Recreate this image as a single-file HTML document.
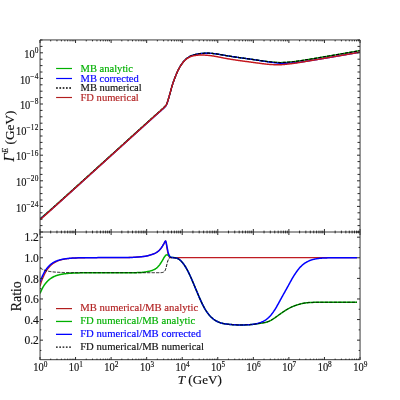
<!DOCTYPE html>
<html><head><meta charset="utf-8"><title>plot</title>
<style>
html,body{margin:0;padding:0;background:#fff;}
body{width:400px;height:400px;overflow:hidden;position:relative;font-family:"Liberation Serif",serif;}
svg{position:absolute;left:0;top:0;will-change:transform;}
text{font-family:"Liberation Serif",serif;fill:#111;stroke:#111;stroke-width:0.15px;}
.cg{fill:#00b000;stroke:#00b000;}.cb{fill:#0000ff;stroke:#0000ff;}.cr{fill:#b22222;stroke:#b22222;}
.tl{font-size:11px;}
.sup{font-size:7.7px;letter-spacing:0.2px;}
.lg{font-size:10.56px;}
</style></head><body>
<svg width="400" height="400" viewBox="0 0 400 400">
<rect x="0" y="0" width="400" height="400" fill="#fff"/>
<defs><clipPath id="ct"><rect x="40" y="40" width="320" height="192"/></clipPath>
<clipPath id="cb"><rect x="40" y="232" width="320" height="128"/></clipPath></defs>
<g clip-path="url(#ct)" fill="none" stroke-linejoin="round">
<path d="M40.00,218.60 L40.45,218.25 L40.89,217.90 L41.34,217.55 L41.78,217.19 L42.23,216.83 L42.67,216.46 L43.12,216.10 L43.56,215.73 L44.01,215.36 L44.45,214.98 L44.90,214.61 L45.34,214.23 L45.79,213.86 L46.23,213.48 L46.68,213.10 L47.12,212.71 L47.57,212.33 L48.01,211.94 L48.46,211.56 L48.90,211.17 L49.35,210.79 L49.79,210.40 L50.24,210.01 L50.68,209.62 L51.13,209.23 L51.57,208.84 L52.02,208.44 L52.46,208.05 L52.91,207.66 L53.35,207.26 L53.80,206.87 L54.24,206.48 L54.69,206.08 L55.13,205.68 L55.58,205.29 L56.02,204.89 L56.47,204.50 L56.91,204.10 L57.36,203.70 L57.80,203.30 L58.25,202.91 L58.69,202.51 L59.14,202.11 L59.58,201.71 L60.03,201.31 L60.47,200.91 L60.92,200.51 L61.36,200.11 L61.81,199.71 L62.25,199.32 L62.70,198.92 L63.14,198.52 L63.59,198.11 L64.03,197.71 L64.48,197.31 L64.92,196.91 L65.37,196.51 L65.81,196.11 L66.26,195.71 L66.70,195.31 L67.15,194.91 L67.59,194.51 L68.04,194.11 L68.48,193.70 L68.93,193.30 L69.37,192.90 L69.82,192.50 L70.26,192.10 L70.71,191.70 L71.15,191.30 L71.60,190.89 L72.04,190.49 L72.49,190.09 L72.93,189.69 L73.38,189.29 L73.82,188.88 L74.27,188.48 L74.71,188.08 L75.16,187.68 L75.61,187.27 L76.05,186.87 L76.50,186.47 L76.94,186.07 L77.39,185.67 L77.83,185.26 L78.28,184.86 L78.72,184.46 L79.17,184.06 L79.61,183.65 L80.06,183.25 L80.50,182.85 L80.95,182.45 L81.39,182.04 L81.84,181.64 L82.28,181.24 L82.73,180.84 L83.17,180.43 L83.62,180.03 L84.06,179.63 L84.51,179.23 L84.95,178.82 L85.40,178.42 L85.84,178.02 L86.29,177.62 L86.73,177.21 L87.18,176.81 L87.62,176.41 L88.07,176.00 L88.51,175.60 L88.96,175.20 L89.40,174.80 L89.85,174.39 L90.29,173.99 L90.74,173.59 L91.18,173.19 L91.63,172.78 L92.07,172.38 L92.52,171.98 L92.96,171.57 L93.41,171.17 L93.85,170.77 L94.30,170.37 L94.74,169.96 L95.19,169.56 L95.63,169.16 L96.08,168.75 L96.52,168.35 L96.97,167.95 L97.41,167.55 L97.86,167.14 L98.30,166.74 L98.75,166.34 L99.19,165.93 L99.64,165.53 L100.08,165.13 L100.53,164.73 L100.97,164.32 L101.42,163.92 L101.86,163.52 L102.31,163.11 L102.75,162.71 L103.20,162.31 L103.64,161.91 L104.09,161.50 L104.53,161.10 L104.98,160.70 L105.42,160.29 L105.87,159.89 L106.31,159.49 L106.76,159.09 L107.20,158.68 L107.65,158.28 L108.09,157.88 L108.54,157.47 L108.98,157.07 L109.43,156.67 L109.87,156.27 L110.32,155.86 L110.76,155.46 L111.21,155.06 L111.66,154.65 L112.10,154.25 L112.55,153.85 L112.99,153.44 L113.44,153.04 L113.88,152.64 L114.33,152.24 L114.77,151.83 L115.22,151.43 L115.66,151.03 L116.11,150.62 L116.55,150.22 L117.00,149.82 L117.44,149.42 L117.89,149.01 L118.33,148.61 L118.78,148.21 L119.22,147.80 L119.67,147.40 L120.11,147.00 L120.56,146.60 L121.00,146.19 L121.45,145.79 L121.89,145.39 L122.34,144.98 L122.78,144.58 L123.23,144.18 L123.67,143.77 L124.12,143.37 L124.56,142.97 L125.01,142.57 L125.45,142.16 L125.90,141.76 L126.34,141.36 L126.79,140.95 L127.23,140.55 L127.68,140.15 L128.12,139.75 L128.57,139.34 L129.01,138.94 L129.46,138.54 L129.90,138.14 L130.35,137.73 L130.79,137.33 L131.24,136.93 L131.68,136.53 L132.13,136.12 L132.57,135.72 L133.02,135.32 L133.46,134.92 L133.91,134.51 L134.35,134.11 L134.80,133.71 L135.24,133.31 L135.69,132.91 L136.13,132.50 L136.58,132.10 L137.02,131.70 L137.47,131.30 L137.91,130.89 L138.36,130.49 L138.80,130.09 L139.25,129.69 L139.69,129.29 L140.14,128.88 L140.58,128.48 L141.03,128.08 L141.47,127.68 L141.92,127.28 L142.36,126.87 L142.81,126.47 L143.25,126.07 L143.70,125.67 L144.14,125.27 L144.59,124.87 L145.03,124.46 L145.48,124.06 L145.92,123.66 L146.37,123.26 L146.82,122.86 L147.26,122.46 L147.71,122.06 L148.15,121.66 L148.60,121.26 L149.04,120.86 L149.49,120.46 L149.93,120.06 L150.38,119.66 L150.82,119.26 L151.27,118.86 L151.71,118.46 L152.16,118.07 L152.60,117.67 L153.05,117.27 L153.49,116.87 L153.94,116.47 L154.38,116.07 L154.83,115.67 L155.27,115.28 L155.72,114.88 L156.16,114.49 L156.61,114.10 L157.05,113.71 L157.50,113.32 L157.94,112.94 L158.39,112.55 L158.83,112.17 L159.28,111.78 L159.72,111.39 L160.17,111.01 L160.61,110.62 L161.06,110.23 L161.50,109.84 L161.95,109.44 L162.39,109.05 L162.84,108.64 L163.28,108.24 L163.73,107.83 L164.17,107.43 L164.62,107.01 L165.06,106.56 L165.51,106.07 L165.95,105.51 L166.40,104.77 L166.84,103.76 L167.29,102.57 L167.73,101.28 L168.18,99.83 L168.62,98.27 L169.07,96.68 L169.51,95.13 L169.96,93.56 L170.40,91.94 L170.85,90.31 L171.29,88.69 L171.74,87.12 L172.18,85.61 L172.63,84.21 L173.07,82.86 L173.52,81.56 L173.96,80.30 L174.41,79.08 L174.85,77.90 L175.30,76.76 L175.74,75.65 L176.19,74.57 L176.63,73.52 L177.08,72.49 L177.52,71.51 L177.97,70.56 L178.41,69.65 L178.86,68.80 L179.30,67.98 L179.75,67.19 L180.19,66.43 L180.64,65.70 L181.08,65.00 L181.53,64.34 L181.97,63.70 L182.42,63.08 L182.87,62.49 L183.31,61.91 L183.76,61.36 L184.20,60.84 L184.65,60.36 L185.09,59.92 L185.54,59.50 L185.98,59.11 L186.43,58.75 L186.87,58.40 L187.32,58.07 L187.76,57.76 L188.21,57.47 L188.65,57.19 L189.10,56.91 L189.54,56.65 L189.99,56.41 L190.43,56.18 L190.88,55.97 L191.32,55.77 L191.77,55.60 L192.21,55.43 L192.66,55.27 L193.10,55.13 L193.55,54.99 L193.99,54.87 L194.44,54.75 L194.88,54.63 L195.33,54.52 L195.77,54.42 L196.22,54.32 L196.66,54.22 L197.11,54.13 L197.55,54.04 L198.00,53.95 L198.44,53.87 L198.89,53.80 L199.33,53.73 L199.78,53.66 L200.22,53.60 L200.67,53.54 L201.11,53.49 L201.56,53.44 L202.00,53.40 L202.45,53.36 L202.89,53.33 L203.34,53.30 L203.78,53.28 L204.23,53.25 L204.67,53.24 L205.12,53.22 L205.56,53.21 L206.01,53.21 L206.45,53.20 L206.90,53.20 L207.34,53.21 L207.79,53.21 L208.23,53.22 L208.68,53.23 L209.12,53.25 L209.57,53.26 L210.01,53.28 L210.46,53.31 L210.90,53.33 L211.35,53.36 L211.79,53.40 L212.24,53.43 L212.68,53.47 L213.13,53.52 L213.57,53.56 L214.02,53.61 L214.46,53.67 L214.91,53.72 L215.35,53.78 L215.80,53.84 L216.24,53.90 L216.69,53.97 L217.13,54.04 L217.58,54.11 L218.03,54.18 L218.47,54.25 L218.92,54.32 L219.36,54.40 L219.81,54.48 L220.25,54.55 L220.70,54.63 L221.14,54.71 L221.59,54.79 L222.03,54.87 L222.48,54.95 L222.92,55.03 L223.37,55.11 L223.81,55.19 L224.26,55.27 L224.70,55.35 L225.15,55.43 L225.59,55.51 L226.04,55.58 L226.48,55.66 L226.93,55.73 L227.37,55.81 L227.82,55.88 L228.26,55.96 L228.71,56.03 L229.15,56.10 L229.60,56.17 L230.04,56.24 L230.49,56.31 L230.93,56.38 L231.38,56.45 L231.82,56.52 L232.27,56.58 L232.71,56.65 L233.16,56.72 L233.60,56.78 L234.05,56.85 L234.49,56.92 L234.94,56.98 L235.38,57.05 L235.83,57.11 L236.27,57.17 L236.72,57.24 L237.16,57.30 L237.61,57.37 L238.05,57.43 L238.50,57.49 L238.94,57.55 L239.39,57.62 L239.83,57.68 L240.28,57.74 L240.72,57.80 L241.17,57.87 L241.61,57.93 L242.06,57.99 L242.50,58.05 L242.95,58.11 L243.39,58.18 L243.84,58.24 L244.28,58.30 L244.73,58.36 L245.17,58.42 L245.62,58.48 L246.06,58.55 L246.51,58.61 L246.95,58.67 L247.40,58.73 L247.84,58.79 L248.29,58.85 L248.73,58.92 L249.18,58.98 L249.62,59.04 L250.07,59.10 L250.51,59.17 L250.96,59.23 L251.40,59.29 L251.85,59.35 L252.29,59.42 L252.74,59.48 L253.18,59.54 L253.63,59.61 L254.08,59.67 L254.52,59.73 L254.97,59.80 L255.41,59.86 L255.86,59.93 L256.30,59.99 L256.75,60.06 L257.19,60.12 L257.64,60.19 L258.08,60.25 L258.53,60.31 L258.97,60.38 L259.42,60.44 L259.86,60.51 L260.31,60.57 L260.75,60.64 L261.20,60.70 L261.64,60.76 L262.09,60.83 L262.53,60.89 L262.98,60.95 L263.42,61.01 L263.87,61.07 L264.31,61.13 L264.76,61.19 L265.20,61.25 L265.65,61.31 L266.09,61.37 L266.54,61.42 L266.98,61.48 L267.43,61.53 L267.87,61.59 L268.32,61.64 L268.76,61.69 L269.21,61.74 L269.65,61.79 L270.10,61.84 L270.54,61.89 L270.99,61.94 L271.43,61.98 L271.88,62.03 L272.32,62.07 L272.77,62.11 L273.21,62.15 L273.66,62.19 L274.10,62.23 L274.55,62.27 L274.99,62.30 L275.44,62.34 L275.88,62.37 L276.33,62.40 L276.77,62.43 L277.22,62.45 L277.66,62.48 L278.11,62.50 L278.55,62.52 L279.00,62.53 L279.44,62.54 L279.89,62.55 L280.33,62.55 L280.78,62.55 L281.22,62.55 L281.67,62.54 L282.11,62.53 L282.56,62.52 L283.00,62.50 L283.45,62.48 L283.89,62.46 L284.34,62.44 L284.78,62.42 L285.23,62.39 L285.67,62.36 L286.12,62.33 L286.56,62.30 L287.01,62.27 L287.45,62.23 L287.90,62.20 L288.34,62.16 L288.79,62.12 L289.24,62.08 L289.68,62.04 L290.13,62.00 L290.57,61.95 L291.02,61.91 L291.46,61.86 L291.91,61.81 L292.35,61.76 L292.80,61.71 L293.24,61.66 L293.69,61.61 L294.13,61.55 L294.58,61.50 L295.02,61.44 L295.47,61.39 L295.91,61.33 L296.36,61.27 L296.80,61.21 L297.25,61.15 L297.69,61.09 L298.14,61.03 L298.58,60.96 L299.03,60.90 L299.47,60.83 L299.92,60.77 L300.36,60.70 L300.81,60.64 L301.25,60.57 L301.70,60.50 L302.14,60.43 L302.59,60.37 L303.03,60.30 L303.48,60.23 L303.92,60.16 L304.37,60.09 L304.81,60.02 L305.26,59.95 L305.70,59.88 L306.15,59.81 L306.59,59.74 L307.04,59.66 L307.48,59.59 L307.93,59.52 L308.37,59.45 L308.82,59.38 L309.26,59.30 L309.71,59.23 L310.15,59.16 L310.60,59.08 L311.04,59.01 L311.49,58.94 L311.93,58.86 L312.38,58.79 L312.82,58.71 L313.27,58.64 L313.71,58.56 L314.16,58.49 L314.60,58.41 L315.05,58.34 L315.49,58.26 L315.94,58.19 L316.38,58.11 L316.83,58.04 L317.27,57.96 L317.72,57.89 L318.16,57.81 L318.61,57.74 L319.05,57.66 L319.50,57.59 L319.94,57.51 L320.39,57.44 L320.83,57.36 L321.28,57.29 L321.72,57.21 L322.17,57.13 L322.61,57.06 L323.06,56.98 L323.50,56.91 L323.95,56.83 L324.39,56.76 L324.84,56.68 L325.29,56.61 L325.73,56.53 L326.18,56.46 L326.62,56.38 L327.07,56.30 L327.51,56.23 L327.96,56.15 L328.40,56.08 L328.85,56.00 L329.29,55.93 L329.74,55.85 L330.18,55.78 L330.63,55.70 L331.07,55.63 L331.52,55.55 L331.96,55.47 L332.41,55.40 L332.85,55.32 L333.30,55.25 L333.74,55.17 L334.19,55.10 L334.63,55.02 L335.08,54.94 L335.52,54.87 L335.97,54.79 L336.41,54.72 L336.86,54.64 L337.30,54.56 L337.75,54.49 L338.19,54.41 L338.64,54.34 L339.08,54.26 L339.53,54.18 L339.97,54.11 L340.42,54.03 L340.86,53.95 L341.31,53.88 L341.75,53.80 L342.20,53.72 L342.64,53.65 L343.09,53.57 L343.53,53.49 L343.98,53.42 L344.42,53.34 L344.87,53.26 L345.31,53.19 L345.76,53.11 L346.20,53.03 L346.65,52.96 L347.09,52.88 L347.54,52.80 L347.98,52.72 L348.43,52.65 L348.87,52.57 L349.32,52.49 L349.76,52.41 L350.21,52.34 L350.65,52.26 L351.10,52.18 L351.54,52.10 L351.99,52.02 L352.43,51.95 L352.88,51.87 L353.32,51.79 L353.77,51.71 L354.21,51.63 L354.66,51.55 L355.10,51.47 L355.55,51.40 L355.99,51.32 L356.44,51.24 L356.88,51.16 L357.33,51.08 L357.77,51.00 L358.22,50.92 L358.66,50.84 L359.11,50.76 L359.55,50.68 L360.00,50.60" stroke="#00b000" stroke-width="1.35"/>
<path d="M40.00,219.03 L40.45,218.68 L40.89,218.33 L41.34,217.97 L41.78,217.62 L42.23,217.25 L42.67,216.89 L43.12,216.53 L43.56,216.16 L44.01,215.79 L44.45,215.41 L44.90,215.04 L45.34,214.66 L45.79,214.29 L46.23,213.91 L46.68,213.53 L47.12,213.14 L47.57,212.76 L48.01,212.38 L48.46,211.99 L48.90,211.60 L49.35,211.22 L49.79,210.83 L50.24,210.44 L50.68,210.05 L51.13,209.66 L51.57,209.27 L52.02,208.88 L52.46,208.48 L52.91,208.09 L53.35,207.70 L53.80,207.30 L54.24,206.91 L54.69,206.51 L55.13,206.12 L55.58,205.72 L56.02,205.33 L56.47,204.93 L56.91,204.53 L57.36,204.14 L57.80,203.74 L58.25,203.34 L58.69,202.94 L59.14,202.54 L59.58,202.15 L60.03,201.75 L60.47,201.35 L60.92,200.95 L61.36,200.55 L61.81,200.15 L62.25,199.75 L62.70,199.35 L63.14,198.95 L63.59,198.55 L64.03,198.15 L64.48,197.75 L64.92,197.35 L65.37,196.95 L65.81,196.55 L66.26,196.15 L66.70,195.74 L67.15,195.34 L67.59,194.94 L68.04,194.54 L68.48,194.14 L68.93,193.74 L69.37,193.34 L69.82,192.94 L70.26,192.53 L70.71,192.13 L71.15,191.73 L71.60,191.33 L72.04,190.93 L72.49,190.52 L72.93,190.12 L73.38,189.72 L73.82,189.32 L74.27,188.92 L74.71,188.51 L75.16,188.11 L75.61,187.71 L76.05,187.31 L76.50,186.91 L76.94,186.50 L77.39,186.10 L77.83,185.70 L78.28,185.30 L78.72,184.89 L79.17,184.49 L79.61,184.09 L80.06,183.69 L80.50,183.28 L80.95,182.88 L81.39,182.48 L81.84,182.08 L82.28,181.67 L82.73,181.27 L83.17,180.87 L83.62,180.47 L84.06,180.06 L84.51,179.66 L84.95,179.26 L85.40,178.86 L85.84,178.45 L86.29,178.05 L86.73,177.65 L87.18,177.24 L87.62,176.84 L88.07,176.44 L88.51,176.04 L88.96,175.63 L89.40,175.23 L89.85,174.83 L90.29,174.43 L90.74,174.02 L91.18,173.62 L91.63,173.22 L92.07,172.81 L92.52,172.41 L92.96,172.01 L93.41,171.61 L93.85,171.20 L94.30,170.80 L94.74,170.40 L95.19,169.99 L95.63,169.59 L96.08,169.19 L96.52,168.79 L96.97,168.38 L97.41,167.98 L97.86,167.58 L98.30,167.18 L98.75,166.77 L99.19,166.37 L99.64,165.97 L100.08,165.56 L100.53,165.16 L100.97,164.76 L101.42,164.36 L101.86,163.95 L102.31,163.55 L102.75,163.15 L103.20,162.74 L103.64,162.34 L104.09,161.94 L104.53,161.54 L104.98,161.13 L105.42,160.73 L105.87,160.33 L106.31,159.92 L106.76,159.52 L107.20,159.12 L107.65,158.71 L108.09,158.31 L108.54,157.91 L108.98,157.51 L109.43,157.10 L109.87,156.70 L110.32,156.30 L110.76,155.89 L111.21,155.49 L111.66,155.09 L112.10,154.69 L112.55,154.28 L112.99,153.88 L113.44,153.48 L113.88,153.07 L114.33,152.67 L114.77,152.27 L115.22,151.87 L115.66,151.46 L116.11,151.06 L116.55,150.66 L117.00,150.25 L117.44,149.85 L117.89,149.45 L118.33,149.04 L118.78,148.64 L119.22,148.24 L119.67,147.84 L120.11,147.43 L120.56,147.03 L121.00,146.63 L121.45,146.22 L121.89,145.82 L122.34,145.42 L122.78,145.02 L123.23,144.61 L123.67,144.21 L124.12,143.81 L124.56,143.40 L125.01,143.00 L125.45,142.60 L125.90,142.19 L126.34,141.79 L126.79,141.39 L127.23,140.99 L127.68,140.58 L128.12,140.18 L128.57,139.78 L129.01,139.38 L129.46,138.97 L129.90,138.57 L130.35,138.17 L130.79,137.77 L131.24,137.36 L131.68,136.96 L132.13,136.56 L132.57,136.16 L133.02,135.75 L133.46,135.35 L133.91,134.95 L134.35,134.55 L134.80,134.14 L135.24,133.74 L135.69,133.34 L136.13,132.94 L136.58,132.54 L137.02,132.13 L137.47,131.73 L137.91,131.33 L138.36,130.93 L138.80,130.53 L139.25,130.12 L139.69,129.72 L140.14,129.32 L140.58,128.92 L141.03,128.52 L141.47,128.11 L141.92,127.71 L142.36,127.31 L142.81,126.91 L143.25,126.51 L143.70,126.10 L144.14,125.70 L144.59,125.30 L145.03,124.90 L145.48,124.50 L145.92,124.10 L146.37,123.70 L146.82,123.30 L147.26,122.90 L147.71,122.50 L148.15,122.10 L148.60,121.70 L149.04,121.30 L149.49,120.90 L149.93,120.50 L150.38,120.10 L150.82,119.70 L151.27,119.30 L151.71,118.90 L152.16,118.50 L152.60,118.10 L153.05,117.70 L153.49,117.30 L153.94,116.91 L154.38,116.51 L154.83,116.11 L155.27,115.71 L155.72,115.32 L156.16,114.93 L156.61,114.54 L157.05,114.15 L157.50,113.76 L157.94,113.37 L158.39,112.99 L158.83,112.60 L159.28,112.22 L159.72,111.83 L160.17,111.44 L160.61,111.05 L161.06,110.66 L161.50,110.27 L161.95,109.87 L162.39,109.47 L162.84,109.07 L163.28,108.66 L163.73,108.25 L164.17,107.83 L164.62,107.40 L165.06,106.93 L165.51,106.41 L165.95,105.81 L166.40,105.03 L166.84,103.99 L167.29,102.76 L167.73,101.43 L168.18,99.94 L168.62,98.35 L169.07,96.73 L169.51,95.16 L169.96,93.58 L170.40,91.95 L170.85,90.31 L171.29,88.69 L171.74,87.12 L172.18,85.61 L172.63,84.20 L173.07,82.86 L173.52,81.55 L173.96,80.29 L174.41,79.07 L174.85,77.89 L175.30,76.75 L175.74,75.65 L176.19,74.57 L176.63,73.51 L177.08,72.49 L177.52,71.50 L177.97,70.55 L178.41,69.65 L178.86,68.79 L179.30,67.97 L179.75,67.18 L180.19,66.42 L180.64,65.70 L181.08,65.00 L181.53,64.33 L181.97,63.69 L182.42,63.08 L182.87,62.48 L183.31,61.91 L183.76,61.36 L184.20,60.84 L184.65,60.36 L185.09,59.91 L185.54,59.50 L185.98,59.11 L186.43,58.74 L186.87,58.40 L187.32,58.07 L187.76,57.76 L188.21,57.47 L188.65,57.18 L189.10,56.91 L189.54,56.65 L189.99,56.40 L190.43,56.17 L190.88,55.96 L191.32,55.77 L191.77,55.59 L192.21,55.43 L192.66,55.27 L193.10,55.12 L193.55,54.99 L193.99,54.86 L194.44,54.74 L194.88,54.63 L195.33,54.52 L195.77,54.41 L196.22,54.31 L196.66,54.22 L197.11,54.12 L197.55,54.03 L198.00,53.95 L198.44,53.87 L198.89,53.80 L199.33,53.72 L199.78,53.66 L200.22,53.60 L200.67,53.54 L201.11,53.49 L201.56,53.44 L202.00,53.40 L202.45,53.36 L202.89,53.33 L203.34,53.30 L203.78,53.27 L204.23,53.25 L204.67,53.23 L205.12,53.22 L205.56,53.21 L206.01,53.20 L206.45,53.20 L206.90,53.20 L207.34,53.20 L207.79,53.21 L208.23,53.22 L208.68,53.23 L209.12,53.24 L209.57,53.26 L210.01,53.28 L210.46,53.30 L210.90,53.33 L211.35,53.36 L211.79,53.39 L212.24,53.43 L212.68,53.47 L213.13,53.51 L213.57,53.56 L214.02,53.61 L214.46,53.66 L214.91,53.72 L215.35,53.78 L215.80,53.84 L216.24,53.90 L216.69,53.96 L217.13,54.03 L217.58,54.10 L218.03,54.17 L218.47,54.25 L218.92,54.32 L219.36,54.40 L219.81,54.47 L220.25,54.55 L220.70,54.63 L221.14,54.71 L221.59,54.79 L222.03,54.87 L222.48,54.95 L222.92,55.03 L223.37,55.11 L223.81,55.19 L224.26,55.27 L224.70,55.35 L225.15,55.43 L225.59,55.50 L226.04,55.58 L226.48,55.66 L226.93,55.73 L227.37,55.81 L227.82,55.88 L228.26,55.95 L228.71,56.02 L229.15,56.10 L229.60,56.17 L230.04,56.24 L230.49,56.31 L230.93,56.38 L231.38,56.45 L231.82,56.51 L232.27,56.58 L232.71,56.65 L233.16,56.72 L233.60,56.78 L234.05,56.85 L234.49,56.91 L234.94,56.98 L235.38,57.04 L235.83,57.11 L236.27,57.17 L236.72,57.24 L237.16,57.30 L237.61,57.36 L238.05,57.43 L238.50,57.49 L238.94,57.55 L239.39,57.61 L239.83,57.68 L240.28,57.74 L240.72,57.80 L241.17,57.86 L241.61,57.93 L242.06,57.99 L242.50,58.05 L242.95,58.11 L243.39,58.17 L243.84,58.23 L244.28,58.30 L244.73,58.36 L245.17,58.42 L245.62,58.48 L246.06,58.54 L246.51,58.60 L246.95,58.67 L247.40,58.73 L247.84,58.79 L248.29,58.85 L248.73,58.91 L249.18,58.98 L249.62,59.04 L250.07,59.10 L250.51,59.16 L250.96,59.23 L251.40,59.29 L251.85,59.35 L252.29,59.42 L252.74,59.48 L253.18,59.54 L253.63,59.61 L254.08,59.67 L254.52,59.74 L254.97,59.80 L255.41,59.87 L255.86,59.93 L256.30,60.00 L256.75,60.07 L257.19,60.14 L257.64,60.20 L258.08,60.27 L258.53,60.34 L258.97,60.41 L259.42,60.48 L259.86,60.55 L260.31,60.62 L260.75,60.69 L261.20,60.76 L261.64,60.83 L262.09,60.90 L262.53,60.98 L262.98,61.05 L263.42,61.12 L263.87,61.19 L264.31,61.26 L264.76,61.34 L265.20,61.41 L265.65,61.48 L266.09,61.55 L266.54,61.62 L266.98,61.69 L267.43,61.76 L267.87,61.82 L268.32,61.89 L268.76,61.96 L269.21,62.02 L269.65,62.09 L270.10,62.15 L270.54,62.21 L270.99,62.27 L271.43,62.33 L271.88,62.39 L272.32,62.45 L272.77,62.51 L273.21,62.57 L273.66,62.62 L274.10,62.68 L274.55,62.74 L274.99,62.79 L275.44,62.84 L275.88,62.89 L276.33,62.94 L276.77,62.99 L277.22,63.04 L277.66,63.08 L278.11,63.12 L278.55,63.16 L279.00,63.20 L279.44,63.23 L279.89,63.25 L280.33,63.27 L280.78,63.29 L281.22,63.31 L281.67,63.32 L282.11,63.32 L282.56,63.33 L283.00,63.33 L283.45,63.32 L283.89,63.32 L284.34,63.31 L284.78,63.30 L285.23,63.29 L285.67,63.28 L286.12,63.27 L286.56,63.25 L287.01,63.23 L287.45,63.22 L287.90,63.20 L288.34,63.18 L288.79,63.16 L289.24,63.13 L289.68,63.11 L290.13,63.08 L290.57,63.06 L291.02,63.03 L291.46,63.00 L291.91,62.97 L292.35,62.93 L292.80,62.90 L293.24,62.86 L293.69,62.82 L294.13,62.79 L294.58,62.74 L295.02,62.70 L295.47,62.66 L295.91,62.61 L296.36,62.57 L296.80,62.52 L297.25,62.47 L297.69,62.42 L298.14,62.37 L298.58,62.32 L299.03,62.26 L299.47,62.21 L299.92,62.15 L300.36,62.09 L300.81,62.03 L301.25,61.98 L301.70,61.92 L302.14,61.85 L302.59,61.79 L303.03,61.73 L303.48,61.67 L303.92,61.60 L304.37,61.54 L304.81,61.48 L305.26,61.41 L305.70,61.34 L306.15,61.28 L306.59,61.21 L307.04,61.15 L307.48,61.08 L307.93,61.01 L308.37,60.94 L308.82,60.87 L309.26,60.80 L309.71,60.74 L310.15,60.67 L310.60,60.60 L311.04,60.53 L311.49,60.45 L311.93,60.38 L312.38,60.31 L312.82,60.24 L313.27,60.17 L313.71,60.10 L314.16,60.02 L314.60,59.95 L315.05,59.88 L315.49,59.81 L315.94,59.73 L316.38,59.66 L316.83,59.59 L317.27,59.51 L317.72,59.44 L318.16,59.36 L318.61,59.29 L319.05,59.22 L319.50,59.14 L319.94,59.07 L320.39,58.99 L320.83,58.92 L321.28,58.84 L321.72,58.77 L322.17,58.69 L322.61,58.62 L323.06,58.55 L323.50,58.47 L323.95,58.40 L324.39,58.32 L324.84,58.25 L325.29,58.17 L325.73,58.10 L326.18,58.02 L326.62,57.95 L327.07,57.87 L327.51,57.80 L327.96,57.72 L328.40,57.65 L328.85,57.57 L329.29,57.50 L329.74,57.42 L330.18,57.34 L330.63,57.27 L331.07,57.19 L331.52,57.12 L331.96,57.04 L332.41,56.97 L332.85,56.89 L333.30,56.82 L333.74,56.74 L334.19,56.66 L334.63,56.59 L335.08,56.51 L335.52,56.44 L335.97,56.36 L336.41,56.29 L336.86,56.21 L337.30,56.13 L337.75,56.06 L338.19,55.98 L338.64,55.91 L339.08,55.83 L339.53,55.75 L339.97,55.68 L340.42,55.60 L340.86,55.52 L341.31,55.45 L341.75,55.37 L342.20,55.30 L342.64,55.22 L343.09,55.14 L343.53,55.07 L343.98,54.99 L344.42,54.91 L344.87,54.83 L345.31,54.76 L345.76,54.68 L346.20,54.60 L346.65,54.53 L347.09,54.45 L347.54,54.37 L347.98,54.29 L348.43,54.22 L348.87,54.14 L349.32,54.06 L349.76,53.98 L350.21,53.91 L350.65,53.83 L351.10,53.75 L351.54,53.67 L351.99,53.60 L352.43,53.52 L352.88,53.44 L353.32,53.36 L353.77,53.28 L354.21,53.20 L354.66,53.12 L355.10,53.05 L355.55,52.97 L355.99,52.89 L356.44,52.81 L356.88,52.73 L357.33,52.65 L357.77,52.57 L358.22,52.49 L358.66,52.41 L359.11,52.33 L359.55,52.25 L360.00,52.17" stroke="#0000ff" stroke-width="1.35"/>
<path d="M40.00,219.50 L40.45,219.10 L40.89,218.69 L41.34,218.29 L41.78,217.89 L42.23,217.49 L42.67,217.08 L43.12,216.68 L43.56,216.28 L44.01,215.88 L44.45,215.47 L44.90,215.07 L45.34,214.67 L45.79,214.27 L46.23,213.86 L46.68,213.46 L47.12,213.06 L47.57,212.65 L48.01,212.25 L48.46,211.85 L48.90,211.45 L49.35,211.04 L49.79,210.64 L50.24,210.24 L50.68,209.84 L51.13,209.43 L51.57,209.03 L52.02,208.63 L52.46,208.22 L52.91,207.82 L53.35,207.42 L53.80,207.02 L54.24,206.61 L54.69,206.21 L55.13,205.81 L55.58,205.41 L56.02,205.00 L56.47,204.60 L56.91,204.20 L57.36,203.79 L57.80,203.39 L58.25,202.99 L58.69,202.59 L59.14,202.18 L59.58,201.78 L60.03,201.38 L60.47,200.98 L60.92,200.57 L61.36,200.17 L61.81,199.77 L62.25,199.36 L62.70,198.96 L63.14,198.56 L63.59,198.16 L64.03,197.75 L64.48,197.35 L64.92,196.95 L65.37,196.54 L65.81,196.14 L66.26,195.74 L66.70,195.34 L67.15,194.93 L67.59,194.53 L68.04,194.13 L68.48,193.73 L68.93,193.32 L69.37,192.92 L69.82,192.52 L70.26,192.11 L70.71,191.71 L71.15,191.31 L71.60,190.91 L72.04,190.50 L72.49,190.10 L72.93,189.70 L73.38,189.29 L73.82,188.89 L74.27,188.49 L74.71,188.09 L75.16,187.68 L75.61,187.28 L76.05,186.88 L76.50,186.48 L76.94,186.07 L77.39,185.67 L77.83,185.27 L78.28,184.86 L78.72,184.46 L79.17,184.06 L79.61,183.66 L80.06,183.25 L80.50,182.85 L80.95,182.45 L81.39,182.04 L81.84,181.64 L82.28,181.24 L82.73,180.84 L83.17,180.43 L83.62,180.03 L84.06,179.63 L84.51,179.22 L84.95,178.82 L85.40,178.42 L85.84,178.02 L86.29,177.61 L86.73,177.21 L87.18,176.81 L87.62,176.40 L88.07,176.00 L88.51,175.60 L88.96,175.20 L89.40,174.79 L89.85,174.39 L90.29,173.99 L90.74,173.58 L91.18,173.18 L91.63,172.78 L92.07,172.38 L92.52,171.97 L92.96,171.57 L93.41,171.17 L93.85,170.76 L94.30,170.36 L94.74,169.96 L95.19,169.56 L95.63,169.15 L96.08,168.75 L96.52,168.35 L96.97,167.94 L97.41,167.54 L97.86,167.14 L98.30,166.74 L98.75,166.33 L99.19,165.93 L99.64,165.53 L100.08,165.12 L100.53,164.72 L100.97,164.32 L101.42,163.92 L101.86,163.51 L102.31,163.11 L102.75,162.71 L103.20,162.30 L103.64,161.90 L104.09,161.50 L104.53,161.10 L104.98,160.69 L105.42,160.29 L105.87,159.89 L106.31,159.48 L106.76,159.08 L107.20,158.68 L107.65,158.28 L108.09,157.87 L108.54,157.47 L108.98,157.07 L109.43,156.66 L109.87,156.26 L110.32,155.86 L110.76,155.45 L111.21,155.05 L111.66,154.65 L112.10,154.25 L112.55,153.84 L112.99,153.44 L113.44,153.04 L113.88,152.63 L114.33,152.23 L114.77,151.83 L115.22,151.43 L115.66,151.02 L116.11,150.62 L116.55,150.22 L117.00,149.81 L117.44,149.41 L117.89,149.01 L118.33,148.61 L118.78,148.20 L119.22,147.80 L119.67,147.40 L120.11,146.99 L120.56,146.59 L121.00,146.19 L121.45,145.78 L121.89,145.38 L122.34,144.98 L122.78,144.58 L123.23,144.17 L123.67,143.77 L124.12,143.37 L124.56,142.96 L125.01,142.56 L125.45,142.16 L125.90,141.75 L126.34,141.35 L126.79,140.95 L127.23,140.55 L127.68,140.14 L128.12,139.74 L128.57,139.34 L129.01,138.93 L129.46,138.53 L129.90,138.13 L130.35,137.72 L130.79,137.32 L131.24,136.92 L131.68,136.52 L132.13,136.11 L132.57,135.71 L133.02,135.31 L133.46,134.90 L133.91,134.50 L134.35,134.10 L134.80,133.69 L135.24,133.29 L135.69,132.89 L136.13,132.49 L136.58,132.08 L137.02,131.68 L137.47,131.28 L137.91,130.87 L138.36,130.47 L138.80,130.07 L139.25,129.66 L139.69,129.26 L140.14,128.86 L140.58,128.46 L141.03,128.05 L141.47,127.65 L141.92,127.25 L142.36,126.84 L142.81,126.44 L143.25,126.04 L143.70,125.63 L144.14,125.23 L144.59,124.83 L145.03,124.43 L145.48,124.02 L145.92,123.62 L146.37,123.22 L146.82,122.81 L147.26,122.41 L147.71,122.01 L148.15,121.60 L148.60,121.20 L149.04,120.80 L149.49,120.39 L149.93,119.99 L150.38,119.59 L150.82,119.19 L151.27,118.78 L151.71,118.38 L152.16,117.98 L152.60,117.57 L153.05,117.17 L153.49,116.77 L153.94,116.36 L154.38,115.96 L154.83,115.56 L155.27,115.15 L155.72,114.75 L156.16,114.36 L156.61,113.96 L157.05,113.56 L157.50,113.17 L157.94,112.77 L158.39,112.38 L158.83,111.98 L159.28,111.59 L159.72,111.19 L160.17,110.79 L160.61,110.39 L161.06,109.98 L161.50,109.57 L161.95,109.16 L162.39,108.75 L162.84,108.33 L163.28,107.91 L163.73,107.48 L164.17,107.06 L164.62,106.62 L165.06,106.15 L165.51,105.65 L165.95,105.11 L166.40,104.43 L166.84,103.50 L167.29,102.37 L167.73,101.14 L168.18,99.74 L168.62,98.22 L169.07,96.65 L169.51,95.11 L169.96,93.54 L170.40,91.93 L170.85,90.30 L171.29,88.69 L171.74,87.11 L172.18,85.61 L172.63,84.20 L173.07,82.86 L173.52,81.55 L173.96,80.29 L174.41,79.07 L174.85,77.89 L175.30,76.75 L175.74,75.65 L176.19,74.57 L176.63,73.51 L177.08,72.49 L177.52,71.50 L177.97,70.55 L178.41,69.65 L178.86,68.79 L179.30,67.97 L179.75,67.18 L180.19,66.42 L180.64,65.70 L181.08,65.00 L181.53,64.33 L181.97,63.69 L182.42,63.08 L182.87,62.48 L183.31,61.91 L183.76,61.36 L184.20,60.84 L184.65,60.36 L185.09,59.91 L185.54,59.50 L185.98,59.11 L186.43,58.74 L186.87,58.40 L187.32,58.07 L187.76,57.76 L188.21,57.47 L188.65,57.18 L189.10,56.91 L189.54,56.65 L189.99,56.40 L190.43,56.17 L190.88,55.96 L191.32,55.77 L191.77,55.59 L192.21,55.43 L192.66,55.27 L193.10,55.12 L193.55,54.99 L193.99,54.86 L194.44,54.74 L194.88,54.63 L195.33,54.52 L195.77,54.41 L196.22,54.31 L196.66,54.22 L197.11,54.12 L197.55,54.03 L198.00,53.95 L198.44,53.87 L198.89,53.80 L199.33,53.72 L199.78,53.66 L200.22,53.60 L200.67,53.54 L201.11,53.49 L201.56,53.44 L202.00,53.40 L202.45,53.36 L202.89,53.33 L203.34,53.30 L203.78,53.27 L204.23,53.25 L204.67,53.23 L205.12,53.22 L205.56,53.21 L206.01,53.20 L206.45,53.20 L206.90,53.20 L207.34,53.20 L207.79,53.21 L208.23,53.22 L208.68,53.23 L209.12,53.24 L209.57,53.26 L210.01,53.28 L210.46,53.30 L210.90,53.33 L211.35,53.36 L211.79,53.39 L212.24,53.43 L212.68,53.47 L213.13,53.51 L213.57,53.56 L214.02,53.61 L214.46,53.66 L214.91,53.72 L215.35,53.78 L215.80,53.84 L216.24,53.90 L216.69,53.96 L217.13,54.03 L217.58,54.10 L218.03,54.17 L218.47,54.25 L218.92,54.32 L219.36,54.40 L219.81,54.47 L220.25,54.55 L220.70,54.63 L221.14,54.71 L221.59,54.79 L222.03,54.87 L222.48,54.95 L222.92,55.03 L223.37,55.11 L223.81,55.19 L224.26,55.27 L224.70,55.35 L225.15,55.43 L225.59,55.50 L226.04,55.58 L226.48,55.66 L226.93,55.73 L227.37,55.81 L227.82,55.88 L228.26,55.95 L228.71,56.02 L229.15,56.10 L229.60,56.17 L230.04,56.24 L230.49,56.31 L230.93,56.38 L231.38,56.45 L231.82,56.51 L232.27,56.58 L232.71,56.65 L233.16,56.72 L233.60,56.78 L234.05,56.85 L234.49,56.91 L234.94,56.98 L235.38,57.04 L235.83,57.11 L236.27,57.17 L236.72,57.24 L237.16,57.30 L237.61,57.36 L238.05,57.43 L238.50,57.49 L238.94,57.55 L239.39,57.61 L239.83,57.68 L240.28,57.74 L240.72,57.80 L241.17,57.86 L241.61,57.93 L242.06,57.99 L242.50,58.05 L242.95,58.11 L243.39,58.17 L243.84,58.23 L244.28,58.30 L244.73,58.36 L245.17,58.42 L245.62,58.48 L246.06,58.54 L246.51,58.60 L246.95,58.67 L247.40,58.73 L247.84,58.79 L248.29,58.85 L248.73,58.91 L249.18,58.98 L249.62,59.04 L250.07,59.10 L250.51,59.16 L250.96,59.23 L251.40,59.29 L251.85,59.35 L252.29,59.41 L252.74,59.48 L253.18,59.54 L253.63,59.60 L254.08,59.67 L254.52,59.73 L254.97,59.79 L255.41,59.86 L255.86,59.92 L256.30,59.99 L256.75,60.05 L257.19,60.12 L257.64,60.18 L258.08,60.25 L258.53,60.31 L258.97,60.38 L259.42,60.44 L259.86,60.51 L260.31,60.57 L260.75,60.63 L261.20,60.70 L261.64,60.76 L262.09,60.82 L262.53,60.89 L262.98,60.95 L263.42,61.01 L263.87,61.07 L264.31,61.13 L264.76,61.19 L265.20,61.25 L265.65,61.31 L266.09,61.36 L266.54,61.42 L266.98,61.48 L267.43,61.53 L267.87,61.58 L268.32,61.64 L268.76,61.69 L269.21,61.74 L269.65,61.79 L270.10,61.84 L270.54,61.89 L270.99,61.93 L271.43,61.98 L271.88,62.02 L272.32,62.07 L272.77,62.11 L273.21,62.15 L273.66,62.19 L274.10,62.23 L274.55,62.26 L274.99,62.30 L275.44,62.33 L275.88,62.37 L276.33,62.40 L276.77,62.43 L277.22,62.45 L277.66,62.48 L278.11,62.50 L278.55,62.52 L279.00,62.53 L279.44,62.54 L279.89,62.55 L280.33,62.55 L280.78,62.55 L281.22,62.55 L281.67,62.54 L282.11,62.53 L282.56,62.52 L283.00,62.50 L283.45,62.48 L283.89,62.46 L284.34,62.44 L284.78,62.41 L285.23,62.39 L285.67,62.36 L286.12,62.33 L286.56,62.30 L287.01,62.26 L287.45,62.23 L287.90,62.19 L288.34,62.16 L288.79,62.12 L289.24,62.08 L289.68,62.04 L290.13,61.99 L290.57,61.95 L291.02,61.90 L291.46,61.86 L291.91,61.81 L292.35,61.76 L292.80,61.71 L293.24,61.66 L293.69,61.61 L294.13,61.55 L294.58,61.50 L295.02,61.44 L295.47,61.38 L295.91,61.33 L296.36,61.27 L296.80,61.21 L297.25,61.15 L297.69,61.09 L298.14,61.02 L298.58,60.96 L299.03,60.90 L299.47,60.83 L299.92,60.77 L300.36,60.70 L300.81,60.63 L301.25,60.57 L301.70,60.50 L302.14,60.43 L302.59,60.36 L303.03,60.30 L303.48,60.23 L303.92,60.16 L304.37,60.09 L304.81,60.02 L305.26,59.95 L305.70,59.88 L306.15,59.80 L306.59,59.73 L307.04,59.66 L307.48,59.59 L307.93,59.52 L308.37,59.45 L308.82,59.37 L309.26,59.30 L309.71,59.23 L310.15,59.15 L310.60,59.08 L311.04,59.01 L311.49,58.93 L311.93,58.86 L312.38,58.79 L312.82,58.71 L313.27,58.64 L313.71,58.56 L314.16,58.49 L314.60,58.41 L315.05,58.34 L315.49,58.26 L315.94,58.19 L316.38,58.11 L316.83,58.04 L317.27,57.96 L317.72,57.89 L318.16,57.81 L318.61,57.74 L319.05,57.66 L319.50,57.58 L319.94,57.51 L320.39,57.43 L320.83,57.36 L321.28,57.28 L321.72,57.21 L322.17,57.13 L322.61,57.06 L323.06,56.98 L323.50,56.91 L323.95,56.83 L324.39,56.76 L324.84,56.68 L325.29,56.60 L325.73,56.53 L326.18,56.45 L326.62,56.38 L327.07,56.30 L327.51,56.23 L327.96,56.15 L328.40,56.08 L328.85,56.00 L329.29,55.93 L329.74,55.85 L330.18,55.77 L330.63,55.70 L331.07,55.62 L331.52,55.55 L331.96,55.47 L332.41,55.40 L332.85,55.32 L333.30,55.24 L333.74,55.17 L334.19,55.09 L334.63,55.02 L335.08,54.94 L335.52,54.87 L335.97,54.79 L336.41,54.71 L336.86,54.64 L337.30,54.56 L337.75,54.49 L338.19,54.41 L338.64,54.33 L339.08,54.26 L339.53,54.18 L339.97,54.10 L340.42,54.03 L340.86,53.95 L341.31,53.88 L341.75,53.80 L342.20,53.72 L342.64,53.65 L343.09,53.57 L343.53,53.49 L343.98,53.42 L344.42,53.34 L344.87,53.26 L345.31,53.18 L345.76,53.11 L346.20,53.03 L346.65,52.95 L347.09,52.88 L347.54,52.80 L347.98,52.72 L348.43,52.64 L348.87,52.57 L349.32,52.49 L349.76,52.41 L350.21,52.33 L350.65,52.26 L351.10,52.18 L351.54,52.10 L351.99,52.02 L352.43,51.94 L352.88,51.87 L353.32,51.79 L353.77,51.71 L354.21,51.63 L354.66,51.55 L355.10,51.47 L355.55,51.39 L355.99,51.31 L356.44,51.24 L356.88,51.16 L357.33,51.08 L357.77,51.00 L358.22,50.92 L358.66,50.84 L359.11,50.76 L359.55,50.68 L360.00,50.60" stroke="#000" stroke-width="1.25" stroke-dasharray="3.2,1.3"/>
<path d="M40.00,219.78 L40.45,219.39 L40.89,219.00 L41.34,218.60 L41.78,218.21 L42.23,217.81 L42.67,217.42 L43.12,217.02 L43.56,216.62 L44.01,216.23 L44.45,215.83 L44.90,215.43 L45.34,215.03 L45.79,214.63 L46.23,214.24 L46.68,213.84 L47.12,213.44 L47.57,213.04 L48.01,212.64 L48.46,212.24 L48.90,211.84 L49.35,211.44 L49.79,211.04 L50.24,210.64 L50.68,210.24 L51.13,209.84 L51.57,209.43 L52.02,209.03 L52.46,208.63 L52.91,208.23 L53.35,207.83 L53.80,207.43 L54.24,207.03 L54.69,206.63 L55.13,206.22 L55.58,205.82 L56.02,205.42 L56.47,205.02 L56.91,204.62 L57.36,204.21 L57.80,203.81 L58.25,203.41 L58.69,203.01 L59.14,202.61 L59.58,202.20 L60.03,201.80 L60.47,201.40 L60.92,201.00 L61.36,200.60 L61.81,200.19 L62.25,199.79 L62.70,199.39 L63.14,198.99 L63.59,198.58 L64.03,198.18 L64.48,197.78 L64.92,197.38 L65.37,196.97 L65.81,196.57 L66.26,196.17 L66.70,195.77 L67.15,195.36 L67.59,194.96 L68.04,194.56 L68.48,194.16 L68.93,193.75 L69.37,193.35 L69.82,192.95 L70.26,192.55 L70.71,192.14 L71.15,191.74 L71.60,191.34 L72.04,190.94 L72.49,190.53 L72.93,190.13 L73.38,189.73 L73.82,189.33 L74.27,188.92 L74.71,188.52 L75.16,188.12 L75.61,187.71 L76.05,187.31 L76.50,186.91 L76.94,186.51 L77.39,186.10 L77.83,185.70 L78.28,185.30 L78.72,184.90 L79.17,184.49 L79.61,184.09 L80.06,183.69 L80.50,183.28 L80.95,182.88 L81.39,182.48 L81.84,182.08 L82.28,181.67 L82.73,181.27 L83.17,180.87 L83.62,180.46 L84.06,180.06 L84.51,179.66 L84.95,179.26 L85.40,178.85 L85.84,178.45 L86.29,178.05 L86.73,177.64 L87.18,177.24 L87.62,176.84 L88.07,176.44 L88.51,176.03 L88.96,175.63 L89.40,175.23 L89.85,174.83 L90.29,174.42 L90.74,174.02 L91.18,173.62 L91.63,173.21 L92.07,172.81 L92.52,172.41 L92.96,172.01 L93.41,171.60 L93.85,171.20 L94.30,170.80 L94.74,170.39 L95.19,169.99 L95.63,169.59 L96.08,169.19 L96.52,168.78 L96.97,168.38 L97.41,167.98 L97.86,167.57 L98.30,167.17 L98.75,166.77 L99.19,166.37 L99.64,165.96 L100.08,165.56 L100.53,165.16 L100.97,164.75 L101.42,164.35 L101.86,163.95 L102.31,163.54 L102.75,163.14 L103.20,162.74 L103.64,162.34 L104.09,161.93 L104.53,161.53 L104.98,161.13 L105.42,160.72 L105.87,160.32 L106.31,159.92 L106.76,159.52 L107.20,159.11 L107.65,158.71 L108.09,158.31 L108.54,157.90 L108.98,157.50 L109.43,157.10 L109.87,156.70 L110.32,156.29 L110.76,155.89 L111.21,155.49 L111.66,155.08 L112.10,154.68 L112.55,154.28 L112.99,153.88 L113.44,153.47 L113.88,153.07 L114.33,152.67 L114.77,152.26 L115.22,151.86 L115.66,151.46 L116.11,151.05 L116.55,150.65 L117.00,150.25 L117.44,149.85 L117.89,149.44 L118.33,149.04 L118.78,148.64 L119.22,148.23 L119.67,147.83 L120.11,147.43 L120.56,147.03 L121.00,146.62 L121.45,146.22 L121.89,145.82 L122.34,145.41 L122.78,145.01 L123.23,144.61 L123.67,144.20 L124.12,143.80 L124.56,143.40 L125.01,143.00 L125.45,142.59 L125.90,142.19 L126.34,141.79 L126.79,141.38 L127.23,140.98 L127.68,140.58 L128.12,140.17 L128.57,139.77 L129.01,139.37 L129.46,138.97 L129.90,138.56 L130.35,138.16 L130.79,137.76 L131.24,137.35 L131.68,136.95 L132.13,136.55 L132.57,136.14 L133.02,135.74 L133.46,135.34 L133.91,134.94 L134.35,134.53 L134.80,134.13 L135.24,133.73 L135.69,133.32 L136.13,132.92 L136.58,132.52 L137.02,132.11 L137.47,131.71 L137.91,131.31 L138.36,130.91 L138.80,130.50 L139.25,130.10 L139.69,129.70 L140.14,129.29 L140.58,128.89 L141.03,128.49 L141.47,128.08 L141.92,127.68 L142.36,127.28 L142.81,126.88 L143.25,126.47 L143.70,126.07 L144.14,125.67 L144.59,125.26 L145.03,124.86 L145.48,124.46 L145.92,124.05 L146.37,123.65 L146.82,123.25 L147.26,122.84 L147.71,122.44 L148.15,122.04 L148.60,121.64 L149.04,121.23 L149.49,120.83 L149.93,120.43 L150.38,120.02 L150.82,119.62 L151.27,119.22 L151.71,118.81 L152.16,118.41 L152.60,118.01 L153.05,117.60 L153.49,117.20 L153.94,116.80 L154.38,116.40 L154.83,115.99 L155.27,115.59 L155.72,115.19 L156.16,114.79 L156.61,114.39 L157.05,114.00 L157.50,113.60 L157.94,113.21 L158.39,112.81 L158.83,112.42 L159.28,112.02 L159.72,111.62 L160.17,111.22 L160.61,110.82 L161.06,110.42 L161.50,110.01 L161.95,109.59 L162.39,109.18 L162.84,108.76 L163.28,108.33 L163.73,107.90 L164.17,107.46 L164.62,107.01 L165.06,106.52 L165.51,105.99 L165.95,105.41 L166.40,104.68 L166.84,103.69 L167.29,102.51 L167.73,101.23 L168.18,99.80 L168.62,98.25 L169.07,96.67 L169.51,95.12 L169.96,93.54 L170.40,91.93 L170.85,90.30 L171.29,88.68 L171.74,87.11 L172.18,85.61 L172.63,84.20 L173.07,82.85 L173.52,81.55 L173.96,80.29 L174.41,79.07 L174.85,77.89 L175.30,76.75 L175.74,75.65 L176.19,74.57 L176.63,73.52 L177.08,72.50 L177.52,71.52 L177.97,70.58 L178.41,69.68 L178.86,68.83 L179.30,68.02 L179.75,67.24 L180.19,66.49 L180.64,65.77 L181.08,65.09 L181.53,64.44 L181.97,63.81 L182.42,63.21 L182.87,62.63 L183.31,62.07 L183.76,61.54 L184.20,61.04 L184.65,60.57 L185.09,60.15 L185.54,59.76 L185.98,59.39 L186.43,59.05 L186.87,58.72 L187.32,58.42 L187.76,58.14 L188.21,57.87 L188.65,57.62 L189.10,57.37 L189.54,57.14 L189.99,56.93 L190.43,56.73 L190.88,56.55 L191.32,56.39 L191.77,56.25 L192.21,56.12 L192.66,56.00 L193.10,55.89 L193.55,55.79 L193.99,55.71 L194.44,55.63 L194.88,55.55 L195.33,55.48 L195.77,55.42 L196.22,55.36 L196.66,55.30 L197.11,55.25 L197.55,55.21 L198.00,55.17 L198.44,55.13 L198.89,55.10 L199.33,55.08 L199.78,55.05 L200.22,55.04 L200.67,55.03 L201.11,55.02 L201.56,55.02 L202.00,55.02 L202.45,55.03 L202.89,55.04 L203.34,55.05 L203.78,55.07 L204.23,55.09 L204.67,55.12 L205.12,55.14 L205.56,55.17 L206.01,55.21 L206.45,55.24 L206.90,55.28 L207.34,55.32 L207.79,55.36 L208.23,55.40 L208.68,55.44 L209.12,55.49 L209.57,55.54 L210.01,55.59 L210.46,55.64 L210.90,55.70 L211.35,55.76 L211.79,55.82 L212.24,55.88 L212.68,55.94 L213.13,56.01 L213.57,56.08 L214.02,56.15 L214.46,56.23 L214.91,56.30 L215.35,56.38 L215.80,56.46 L216.24,56.54 L216.69,56.62 L217.13,56.71 L217.58,56.79 L218.03,56.88 L218.47,56.96 L218.92,57.05 L219.36,57.14 L219.81,57.23 L220.25,57.32 L220.70,57.41 L221.14,57.50 L221.59,57.59 L222.03,57.67 L222.48,57.76 L222.92,57.85 L223.37,57.94 L223.81,58.03 L224.26,58.11 L224.70,58.20 L225.15,58.28 L225.59,58.36 L226.04,58.44 L226.48,58.52 L226.93,58.60 L227.37,58.68 L227.82,58.76 L228.26,58.84 L228.71,58.91 L229.15,58.99 L229.60,59.06 L230.04,59.14 L230.49,59.21 L230.93,59.28 L231.38,59.35 L231.82,59.42 L232.27,59.49 L232.71,59.56 L233.16,59.63 L233.60,59.70 L234.05,59.77 L234.49,59.84 L234.94,59.90 L235.38,59.97 L235.83,60.04 L236.27,60.10 L236.72,60.17 L237.16,60.23 L237.61,60.30 L238.05,60.36 L238.50,60.42 L238.94,60.49 L239.39,60.55 L239.83,60.61 L240.28,60.68 L240.72,60.74 L241.17,60.80 L241.61,60.86 L242.06,60.92 L242.50,60.98 L242.95,61.05 L243.39,61.11 L243.84,61.17 L244.28,61.23 L244.73,61.29 L245.17,61.35 L245.62,61.41 L246.06,61.47 L246.51,61.53 L246.95,61.59 L247.40,61.65 L247.84,61.71 L248.29,61.77 L248.73,61.83 L249.18,61.89 L249.62,61.95 L250.07,62.01 L250.51,62.07 L250.96,62.13 L251.40,62.19 L251.85,62.25 L252.29,62.31 L252.74,62.37 L253.18,62.43 L253.63,62.49 L254.08,62.55 L254.52,62.61 L254.97,62.67 L255.41,62.73 L255.86,62.79 L256.30,62.85 L256.75,62.91 L257.19,62.97 L257.64,63.02 L258.08,63.08 L258.53,63.14 L258.97,63.20 L259.42,63.26 L259.86,63.32 L260.31,63.38 L260.75,63.44 L261.20,63.50 L261.64,63.56 L262.09,63.61 L262.53,63.67 L262.98,63.73 L263.42,63.78 L263.87,63.84 L264.31,63.89 L264.76,63.95 L265.20,64.00 L265.65,64.05 L266.09,64.10 L266.54,64.15 L266.98,64.19 L267.43,64.24 L267.87,64.28 L268.32,64.32 L268.76,64.36 L269.21,64.40 L269.65,64.43 L270.10,64.47 L270.54,64.50 L270.99,64.53 L271.43,64.56 L271.88,64.58 L272.32,64.61 L272.77,64.63 L273.21,64.65 L273.66,64.67 L274.10,64.69 L274.55,64.71 L274.99,64.72 L275.44,64.74 L275.88,64.75 L276.33,64.76 L276.77,64.77 L277.22,64.78 L277.66,64.78 L278.11,64.78 L278.55,64.78 L279.00,64.78 L279.44,64.77 L279.89,64.76 L280.33,64.74 L280.78,64.72 L281.22,64.70 L281.67,64.67 L282.11,64.64 L282.56,64.61 L283.00,64.58 L283.45,64.54 L283.89,64.51 L284.34,64.47 L284.78,64.42 L285.23,64.38 L285.67,64.34 L286.12,64.29 L286.56,64.25 L287.01,64.20 L287.45,64.15 L287.90,64.10 L288.34,64.05 L288.79,64.00 L289.24,63.95 L289.68,63.89 L290.13,63.84 L290.57,63.78 L291.02,63.73 L291.46,63.67 L291.91,63.61 L292.35,63.55 L292.80,63.49 L293.24,63.43 L293.69,63.37 L294.13,63.31 L294.58,63.24 L295.02,63.18 L295.47,63.11 L295.91,63.05 L296.36,62.98 L296.80,62.91 L297.25,62.85 L297.69,62.78 L298.14,62.71 L298.58,62.64 L299.03,62.57 L299.47,62.50 L299.92,62.43 L300.36,62.35 L300.81,62.28 L301.25,62.21 L301.70,62.14 L302.14,62.06 L302.59,61.99 L303.03,61.92 L303.48,61.85 L303.92,61.77 L304.37,61.70 L304.81,61.63 L305.26,61.55 L305.70,61.48 L306.15,61.40 L306.59,61.33 L307.04,61.26 L307.48,61.18 L307.93,61.11 L308.37,61.04 L308.82,60.96 L309.26,60.89 L309.71,60.81 L310.15,60.74 L310.60,60.66 L311.04,60.59 L311.49,60.51 L311.93,60.44 L312.38,60.36 L312.82,60.29 L313.27,60.21 L313.71,60.14 L314.16,60.06 L314.60,59.99 L315.05,59.91 L315.49,59.84 L315.94,59.76 L316.38,59.69 L316.83,59.61 L317.27,59.54 L317.72,59.46 L318.16,59.38 L318.61,59.31 L319.05,59.23 L319.50,59.16 L319.94,59.08 L320.39,59.01 L320.83,58.93 L321.28,58.85 L321.72,58.78 L322.17,58.70 L322.61,58.63 L323.06,58.55 L323.50,58.48 L323.95,58.40 L324.39,58.33 L324.84,58.25 L325.29,58.18 L325.73,58.10 L326.18,58.02 L326.62,57.95 L327.07,57.87 L327.51,57.80 L327.96,57.72 L328.40,57.65 L328.85,57.57 L329.29,57.50 L329.74,57.42 L330.18,57.35 L330.63,57.27 L331.07,57.19 L331.52,57.12 L331.96,57.04 L332.41,56.97 L332.85,56.89 L333.30,56.82 L333.74,56.74 L334.19,56.66 L334.63,56.59 L335.08,56.51 L335.52,56.44 L335.97,56.36 L336.41,56.29 L336.86,56.21 L337.30,56.13 L337.75,56.06 L338.19,55.98 L338.64,55.90 L339.08,55.83 L339.53,55.75 L339.97,55.68 L340.42,55.60 L340.86,55.52 L341.31,55.45 L341.75,55.37 L342.20,55.29 L342.64,55.22 L343.09,55.14 L343.53,55.06 L343.98,54.99 L344.42,54.91 L344.87,54.83 L345.31,54.76 L345.76,54.68 L346.20,54.60 L346.65,54.52 L347.09,54.45 L347.54,54.37 L347.98,54.29 L348.43,54.22 L348.87,54.14 L349.32,54.06 L349.76,53.98 L350.21,53.90 L350.65,53.83 L351.10,53.75 L351.54,53.67 L351.99,53.59 L352.43,53.51 L352.88,53.44 L353.32,53.36 L353.77,53.28 L354.21,53.20 L354.66,53.12 L355.10,53.04 L355.55,52.97 L355.99,52.89 L356.44,52.81 L356.88,52.73 L357.33,52.65 L357.77,52.57 L358.22,52.49 L358.66,52.41 L359.11,52.33 L359.55,52.25 L360.00,52.17" stroke="#c4161c" stroke-width="1.45"/>
</g>
<g clip-path="url(#cb)" fill="none" stroke-linejoin="round">
<path d="M40.00,286.20 L40.45,284.69 L40.91,283.25 L41.36,281.89 L41.81,280.61 L42.27,279.39 L42.72,278.23 L43.17,277.14 L43.63,276.11 L44.08,275.12 L44.54,274.20 L44.99,273.32 L45.44,272.49 L45.90,271.70 L46.35,270.95 L46.80,270.24 L47.26,269.57 L47.71,268.94 L48.16,268.34 L48.62,267.77 L49.07,267.23 L49.52,266.72 L49.98,266.24 L50.43,265.78 L50.88,265.35 L51.34,264.94 L51.79,264.55 L52.24,264.18 L52.70,263.83 L53.15,263.50 L53.61,263.19 L54.06,262.89 L54.51,262.61 L54.97,262.35 L55.42,262.10 L55.87,261.86 L56.33,261.63 L56.78,261.42 L57.23,261.22 L57.69,261.02 L58.14,260.84 L58.59,260.67 L59.05,260.51 L59.50,260.35 L59.95,260.21 L60.41,260.07 L60.86,259.94 L61.31,259.82 L61.77,259.70 L62.22,259.59 L62.68,259.48 L63.13,259.38 L63.58,259.29 L64.04,259.20 L64.49,259.11 L64.94,259.03 L65.40,258.96 L65.85,258.89 L66.30,258.82 L66.76,258.75 L67.21,258.69 L67.66,258.63 L68.12,258.58 L68.57,258.53 L69.02,258.48 L69.48,258.43 L69.93,258.39 L70.38,258.35 L70.84,258.31 L71.29,258.27 L71.75,258.23 L72.20,258.20 L72.65,258.17 L73.11,258.14 L73.56,258.11 L74.01,258.08 L74.47,258.06 L74.92,258.03 L75.37,258.01 L75.83,257.99 L76.28,257.97 L76.73,257.95 L77.19,257.93 L77.64,257.91 L78.09,257.90 L78.55,257.88 L79.00,257.87 L79.45,257.85 L79.91,257.84 L80.36,257.83 L80.82,257.81 L81.27,257.80 L81.72,257.79 L82.18,257.78 L82.63,257.77 L83.08,257.76 L83.54,257.75 L83.99,257.75 L84.44,257.74 L84.90,257.73 L85.35,257.72 L85.80,257.72 L86.26,257.71 L86.71,257.71 L87.16,257.70 L87.62,257.69 L88.07,257.69 L88.53,257.68 L88.98,257.68 L89.43,257.68 L89.89,257.67 L90.34,257.67 L90.79,257.66 L91.25,257.66 L91.70,257.66 L92.15,257.65 L92.61,257.65 L93.06,257.65 L93.51,257.65 L93.97,257.64 L94.42,257.64 L94.87,257.64 L95.33,257.64 L95.78,257.64 L96.23,257.63 L96.69,257.63 L97.14,257.63 L97.60,257.63 L98.05,257.63 L98.50,257.63 L98.96,257.62 L99.41,257.62 L99.86,257.62 L100.32,257.62 L100.77,257.62 L101.22,257.62 L101.68,257.62 L102.13,257.62 L102.58,257.62 L103.04,257.61 L103.49,257.61 L103.94,257.61 L104.40,257.61 L104.85,257.61 L105.30,257.61 L105.76,257.61 L106.21,257.61 L106.67,257.61 L107.12,257.61 L107.57,257.61 L108.03,257.61 L108.48,257.61 L108.93,257.61 L109.39,257.61 L109.84,257.61 L110.29,257.61 L110.75,257.61 L111.20,257.61 L111.65,257.61 L112.11,257.60 L112.56,257.60 L113.01,257.60 L113.47,257.60 L113.92,257.60 L114.37,257.60 L114.83,257.60 L115.28,257.60 L115.74,257.60 L116.19,257.60 L116.64,257.60 L117.10,257.60 L117.55,257.60 L118.00,257.60 L118.46,257.60 L118.91,257.60 L119.36,257.60 L119.82,257.60 L120.27,257.60 L120.72,257.60 L121.18,257.60 L121.63,257.60 L122.08,257.60 L122.54,257.60 L122.99,257.60 L123.44,257.60 L123.90,257.60 L124.35,257.60 L124.81,257.60 L125.26,257.60 L125.71,257.60 L126.17,257.59 L126.62,257.59 L127.07,257.58 L127.53,257.56 L127.98,257.55 L128.43,257.54 L128.89,257.52 L129.34,257.51 L129.79,257.49 L130.25,257.47 L130.70,257.45 L131.15,257.43 L131.61,257.42 L132.06,257.40 L132.52,257.38 L132.97,257.36 L133.42,257.33 L133.88,257.30 L134.33,257.28 L134.78,257.24 L135.24,257.21 L135.69,257.18 L136.14,257.15 L136.60,257.11 L137.05,257.08 L137.50,257.04 L137.96,257.00 L138.41,256.97 L138.86,256.93 L139.32,256.90 L139.77,256.86 L140.22,256.82 L140.68,256.78 L141.13,256.74 L141.59,256.70 L142.04,256.66 L142.49,256.61 L142.95,256.56 L143.40,256.51 L143.85,256.45 L144.31,256.40 L144.76,256.33 L145.21,256.27 L145.67,256.19 L146.12,256.10 L146.57,256.01 L147.03,255.90 L147.48,255.79 L147.93,255.67 L148.39,255.55 L148.84,255.42 L149.29,255.29 L149.75,255.15 L150.20,255.02 L150.66,254.88 L151.11,254.75 L151.56,254.61 L152.02,254.46 L152.47,254.31 L152.92,254.15 L153.38,253.98 L153.83,253.81 L154.28,253.62 L154.74,253.42 L155.19,253.21 L155.64,252.97 L156.10,252.71 L156.55,252.43 L157.00,252.13 L157.46,251.81 L157.91,251.47 L158.36,251.11 L158.82,250.70 L159.27,250.27 L159.73,249.80 L160.18,249.30 L160.63,248.75 L161.09,248.15 L161.54,247.52 L161.99,246.86 L162.45,246.16 L162.90,245.41 L163.35,244.63 L163.81,243.83 L164.26,242.98 L164.71,242.15 L165.17,241.27 L165.62,241.00 L166.07,242.50 L166.53,245.33 L166.98,248.23 L167.43,250.87 L167.89,253.06 L168.34,254.97 L168.80,256.18 L169.25,256.89 L169.70,257.25 L170.16,257.44 L170.61,257.56 L171.06,257.60 L171.52,257.60 L171.97,257.60 L172.42,257.60 L172.88,257.60 L173.33,257.60 L173.78,257.60 L174.24,257.61 L174.69,257.61 L175.14,257.61 L175.60,257.61 L176.05,257.61 L176.51,257.61 L176.96,257.61 L177.41,257.61 L177.87,257.61 L178.32,257.61 L178.77,257.61 L179.23,257.61 L179.68,257.61 L180.13,257.61 L180.59,257.61 L181.04,257.62 L181.49,257.62 L181.95,257.62 L182.40,257.62 L182.85,257.62 L183.31,257.62 L183.76,257.62 L184.21,257.62 L184.67,257.62 L185.12,257.62 L185.58,257.62 L186.03,257.62 L186.48,257.62 L186.94,257.62 L187.39,257.62 L187.84,257.62 L188.30,257.63 L188.75,257.63 L189.20,257.63 L189.66,257.63 L190.11,257.63 L190.56,257.63 L191.02,257.63 L191.47,257.63 L191.92,257.63 L192.38,257.63 L192.83,257.63 L193.28,257.63 L193.74,257.63 L194.19,257.63 L194.65,257.63 L195.10,257.63 L195.55,257.63 L196.01,257.63 L196.46,257.64 L196.91,257.64 L197.37,257.64 L197.82,257.64 L198.27,257.64 L198.73,257.64 L199.18,257.64 L199.63,257.64 L200.09,257.64 L200.54,257.64 L200.99,257.64 L201.45,257.64 L201.90,257.64 L202.35,257.64 L202.81,257.64 L203.26,257.64 L203.72,257.64 L204.17,257.64 L204.62,257.64 L205.08,257.65 L205.53,257.65 L205.98,257.65 L206.44,257.65 L206.89,257.65 L207.34,257.65 L207.80,257.65 L208.25,257.65 L208.70,257.65 L209.16,257.65 L209.61,257.65 L210.06,257.65 L210.52,257.65 L210.97,257.65 L211.42,257.65 L211.88,257.65 L212.33,257.65 L212.79,257.65 L213.24,257.65 L213.69,257.65 L214.15,257.65 L214.60,257.65 L215.05,257.66 L215.51,257.66 L215.96,257.66 L216.41,257.66 L216.87,257.66 L217.32,257.66 L217.77,257.66 L218.23,257.66 L218.68,257.66 L219.13,257.66 L219.59,257.66 L220.04,257.66 L220.49,257.66 L220.95,257.66 L221.40,257.66 L221.86,257.66 L222.31,257.66 L222.76,257.66 L223.22,257.66 L223.67,257.66 L224.12,257.66 L224.58,257.66 L225.03,257.66 L225.48,257.66 L225.94,257.66 L226.39,257.66 L226.84,257.67 L227.30,257.67 L227.75,257.67 L228.20,257.67 L228.66,257.67 L229.11,257.67 L229.57,257.67 L230.02,257.67 L230.47,257.67 L230.93,257.67 L231.38,257.67 L231.83,257.67 L232.29,257.67 L232.74,257.67 L233.19,257.67 L233.65,257.67 L234.10,257.67 L234.55,257.67 L235.01,257.67 L235.46,257.67 L235.91,257.67 L236.37,257.67 L236.82,257.67 L237.27,257.67 L237.73,257.67 L238.18,257.67 L238.64,257.67 L239.09,257.67 L239.54,257.67 L240.00,257.67 L240.45,257.67 L240.90,257.68 L241.36,257.68 L241.81,257.68 L242.26,257.68 L242.72,257.68 L243.17,257.68 L243.62,257.68 L244.08,257.68 L244.53,257.68 L244.98,257.68 L245.44,257.68 L245.89,257.68 L246.34,257.68 L246.80,257.68 L247.25,257.68 L247.71,257.68 L248.16,257.68 L248.61,257.68 L249.07,257.68 L249.52,257.68 L249.97,257.68 L250.43,257.68 L250.88,257.68 L251.33,257.68 L251.79,257.68 L252.24,257.68 L252.69,257.68 L253.15,257.68 L253.60,257.68 L254.05,257.68 L254.51,257.68 L254.96,257.68 L255.41,257.68 L255.87,257.68 L256.32,257.68 L256.78,257.68 L257.23,257.68 L257.68,257.68 L258.14,257.68 L258.59,257.68 L259.04,257.68 L259.50,257.69 L259.95,257.69 L260.40,257.69 L260.86,257.69 L261.31,257.69 L261.76,257.69 L262.22,257.69 L262.67,257.69 L263.12,257.69 L263.58,257.69 L264.03,257.69 L264.48,257.69 L264.94,257.69 L265.39,257.69 L265.85,257.69 L266.30,257.69 L266.75,257.69 L267.21,257.69 L267.66,257.69 L268.11,257.69 L268.57,257.69 L269.02,257.69 L269.47,257.69 L269.93,257.69 L270.38,257.69 L270.83,257.69 L271.29,257.69 L271.74,257.69 L272.19,257.69 L272.65,257.69 L273.10,257.69 L273.56,257.69 L274.01,257.69 L274.46,257.69 L274.92,257.69 L275.37,257.69 L275.82,257.69 L276.28,257.69 L276.73,257.69 L277.18,257.69 L277.64,257.69 L278.09,257.69 L278.54,257.69 L279.00,257.69 L279.45,257.69 L279.90,257.69 L280.36,257.69 L280.81,257.69 L281.26,257.69 L281.72,257.69 L282.17,257.69 L282.63,257.69 L283.08,257.69 L283.53,257.69 L283.99,257.69 L284.44,257.69 L284.89,257.69 L285.35,257.69 L285.80,257.69 L286.25,257.69 L286.71,257.69 L287.16,257.69 L287.61,257.69 L288.07,257.69 L288.52,257.69 L288.97,257.69 L289.43,257.69 L289.88,257.69 L290.33,257.70 L290.79,257.70 L291.24,257.70 L291.70,257.70 L292.15,257.70 L292.60,257.70 L293.06,257.70 L293.51,257.70 L293.96,257.70 L294.42,257.70 L294.87,257.70 L295.32,257.70 L295.78,257.70 L296.23,257.70 L296.68,257.70 L297.14,257.70 L297.59,257.70 L298.04,257.70 L298.50,257.70 L298.95,257.70 L299.40,257.70 L299.86,257.70 L300.31,257.70 L300.77,257.70 L301.22,257.70 L301.67,257.70 L302.13,257.70 L302.58,257.70 L303.03,257.70 L303.49,257.70 L303.94,257.70 L304.39,257.70 L304.85,257.70 L305.30,257.70 L305.75,257.70 L306.21,257.70 L306.66,257.70 L307.11,257.70 L307.57,257.70 L308.02,257.70 L308.47,257.70 L308.93,257.70 L309.38,257.70 L309.84,257.70 L310.29,257.70 L310.74,257.70 L311.20,257.70 L311.65,257.70 L312.10,257.70 L312.56,257.70 L313.01,257.70 L313.46,257.70 L313.92,257.70 L314.37,257.70 L314.82,257.70 L315.28,257.70 L315.73,257.70 L316.18,257.70 L316.64,257.70 L317.09,257.70 L317.55,257.70 L318.00,257.70 L318.45,257.70 L318.91,257.70 L319.36,257.70 L319.81,257.70 L320.27,257.70 L320.72,257.70 L321.17,257.70 L321.63,257.70 L322.08,257.70 L322.53,257.70 L322.99,257.70 L323.44,257.70 L323.89,257.70 L324.35,257.70 L324.80,257.70 L325.25,257.70 L325.71,257.70 L326.16,257.70 L326.62,257.70 L327.07,257.70 L327.52,257.70 L327.98,257.70 L328.43,257.70 L328.88,257.70 L329.34,257.70 L329.79,257.70 L330.24,257.70 L330.70,257.70 L331.15,257.70 L331.60,257.70 L332.06,257.70 L332.51,257.70 L332.96,257.70 L333.42,257.70 L333.87,257.70 L334.32,257.70 L334.78,257.70 L335.23,257.70 L335.69,257.70 L336.14,257.70 L336.59,257.70 L337.05,257.70 L337.50,257.70 L337.95,257.70 L338.41,257.70 L338.86,257.70 L339.31,257.70 L339.77,257.70 L340.22,257.70 L340.67,257.70 L341.13,257.70 L341.58,257.70 L342.03,257.70 L342.49,257.70 L342.94,257.70 L343.39,257.70 L343.85,257.70 L344.30,257.70 L344.76,257.70 L345.21,257.70 L345.66,257.70 L346.12,257.70 L346.57,257.70 L347.02,257.70 L347.48,257.70 L347.93,257.70 L348.38,257.70 L348.84,257.70 L349.29,257.70 L349.74,257.70 L350.20,257.70 L350.65,257.70 L351.10,257.70 L351.56,257.70 L352.01,257.70 L352.46,257.70 L352.92,257.70 L353.37,257.70 L353.83,257.70 L354.28,257.70 L354.73,257.70 L355.19,257.70 L355.64,257.70 L356.09,257.70 L356.55,257.70 L357.00,257.70" stroke="#bf1b22" stroke-width="1.3"/>
<path d="M40.00,293.50 L40.45,292.40 L40.91,291.35 L41.36,290.37 L41.81,289.43 L42.27,288.54 L42.72,287.71 L43.17,286.91 L43.63,286.16 L44.08,285.45 L44.54,284.77 L44.99,284.13 L45.44,283.53 L45.90,282.95 L46.35,282.41 L46.80,281.89 L47.26,281.41 L47.71,280.95 L48.16,280.51 L48.62,280.10 L49.07,279.70 L49.52,279.33 L49.98,278.98 L50.43,278.65 L50.88,278.33 L51.34,278.04 L51.79,277.75 L52.24,277.49 L52.70,277.23 L53.15,276.99 L53.61,276.76 L54.06,276.55 L54.51,276.35 L54.97,276.15 L55.42,275.97 L55.87,275.80 L56.33,275.63 L56.78,275.48 L57.23,275.33 L57.69,275.19 L58.14,275.06 L58.59,274.93 L59.05,274.82 L59.50,274.70 L59.95,274.60 L60.41,274.50 L60.86,274.40 L61.31,274.31 L61.77,274.23 L62.22,274.15 L62.68,274.07 L63.13,274.00 L63.58,273.93 L64.04,273.86 L64.49,273.80 L64.94,273.74 L65.40,273.69 L65.85,273.64 L66.30,273.59 L66.76,273.54 L67.21,273.49 L67.66,273.45 L68.12,273.41 L68.57,273.37 L69.02,273.34 L69.48,273.31 L69.93,273.27 L70.38,273.24 L70.84,273.21 L71.29,273.19 L71.75,273.16 L72.20,273.14 L72.65,273.11 L73.11,273.09 L73.56,273.07 L74.01,273.05 L74.47,273.03 L74.92,273.01 L75.37,273.00 L75.83,272.98 L76.28,272.97 L76.73,272.95 L77.19,272.94 L77.64,272.93 L78.09,272.92 L78.55,272.90 L79.00,272.89 L79.45,272.88 L79.91,272.87 L80.36,272.86 L80.82,272.86 L81.27,272.85 L81.72,272.84 L82.18,272.83 L82.63,272.82 L83.08,272.82 L83.54,272.81 L83.99,272.81 L84.44,272.80 L84.90,272.80 L85.35,272.79 L85.80,272.79 L86.26,272.78 L86.71,272.78 L87.16,272.77 L87.62,272.77 L88.07,272.76 L88.53,272.76 L88.98,272.76 L89.43,272.76 L89.89,272.75 L90.34,272.75 L90.79,272.75 L91.25,272.74 L91.70,272.74 L92.15,272.74 L92.61,272.74 L93.06,272.74 L93.51,272.73 L93.97,272.73 L94.42,272.73 L94.87,272.73 L95.33,272.73 L95.78,272.73 L96.23,272.72 L96.69,272.72 L97.14,272.72 L97.60,272.72 L98.05,272.72 L98.50,272.72 L98.96,272.72 L99.41,272.72 L99.86,272.72 L100.32,272.71 L100.77,272.71 L101.22,272.71 L101.68,272.71 L102.13,272.71 L102.58,272.71 L103.04,272.71 L103.49,272.71 L103.94,272.71 L104.40,272.71 L104.85,272.71 L105.30,272.71 L105.76,272.71 L106.21,272.71 L106.67,272.71 L107.12,272.71 L107.57,272.71 L108.03,272.71 L108.48,272.71 L108.93,272.71 L109.39,272.71 L109.84,272.70 L110.29,272.70 L110.75,272.70 L111.20,272.70 L111.65,272.70 L112.11,272.70 L112.56,272.70 L113.01,272.70 L113.47,272.70 L113.92,272.70 L114.37,272.70 L114.83,272.70 L115.28,272.70 L115.74,272.70 L116.19,272.70 L116.64,272.70 L117.10,272.70 L117.55,272.70 L118.00,272.70 L118.46,272.70 L118.91,272.70 L119.36,272.70 L119.82,272.70 L120.27,272.70 L120.72,272.70 L121.18,272.70 L121.63,272.70 L122.08,272.70 L122.54,272.70 L122.99,272.70 L123.44,272.70 L123.90,272.70 L124.35,272.70 L124.81,272.70 L125.26,272.70 L125.71,272.70 L126.17,272.70 L126.62,272.70 L127.07,272.70 L127.53,272.70 L127.98,272.70 L128.43,272.70 L128.89,272.70 L129.34,272.70 L129.79,272.70 L130.25,272.70 L130.70,272.70 L131.15,272.70 L131.61,272.70 L132.06,272.69 L132.52,272.69 L132.97,272.69 L133.42,272.68 L133.88,272.68 L134.33,272.67 L134.78,272.66 L135.24,272.66 L135.69,272.65 L136.14,272.64 L136.60,272.63 L137.05,272.62 L137.50,272.61 L137.96,272.60 L138.41,272.59 L138.86,272.58 L139.32,272.57 L139.77,272.56 L140.22,272.54 L140.68,272.52 L141.13,272.49 L141.59,272.45 L142.04,272.40 L142.49,272.35 L142.95,272.29 L143.40,272.23 L143.85,272.16 L144.31,272.10 L144.76,272.03 L145.21,271.97 L145.67,271.90 L146.12,271.83 L146.57,271.76 L147.03,271.68 L147.48,271.60 L147.93,271.51 L148.39,271.42 L148.84,271.32 L149.29,271.22 L149.75,271.12 L150.20,271.00 L150.66,270.89 L151.11,270.75 L151.56,270.61 L152.02,270.44 L152.47,270.27 L152.92,270.08 L153.38,269.88 L153.83,269.68 L154.28,269.47 L154.74,269.24 L155.19,268.99 L155.64,268.71 L156.10,268.41 L156.55,268.07 L157.00,267.68 L157.46,267.24 L157.91,266.77 L158.36,266.26 L158.82,265.74 L159.27,265.19 L159.73,264.59 L160.18,263.95 L160.63,263.28 L161.09,262.58 L161.54,261.87 L161.99,261.15 L162.45,260.39 L162.90,259.59 L163.35,258.78 L163.81,257.98 L164.26,257.24 L164.71,256.58 L165.17,255.96 L165.62,255.40 L166.07,255.06 L166.53,254.87 L166.98,254.80 L167.43,254.89 L167.89,255.06 L168.34,255.29 L168.80,255.66 L169.25,256.04 L169.70,256.42 L170.16,256.79 L170.61,257.05 L171.06,257.25 L171.52,257.41 L171.97,257.50 L172.42,257.53 L172.88,257.55 L173.33,257.56 L173.78,257.58 L174.24,257.62 L174.69,257.69 L175.14,257.79 L175.60,257.90 L176.05,258.02 L176.51,258.16 L176.96,258.31 L177.41,258.49 L177.87,258.69 L178.32,258.91 L178.77,259.17 L179.23,259.45 L179.68,259.78 L180.13,260.14 L180.59,260.56 L181.04,261.02 L181.49,261.52 L181.95,262.06 L182.40,262.57 L182.85,263.10 L183.31,263.67 L183.76,264.27 L184.21,264.90 L184.67,265.57 L185.12,266.26 L185.58,266.99 L186.03,267.74 L186.48,268.53 L186.94,269.34 L187.39,270.19 L187.84,271.05 L188.30,271.95 L188.75,272.87 L189.20,273.81 L189.66,274.78 L190.11,275.77 L190.56,276.77 L191.02,277.79 L191.47,278.82 L191.92,279.87 L192.38,280.92 L192.83,281.99 L193.28,283.06 L193.74,284.13 L194.19,285.21 L194.65,286.29 L195.10,287.38 L195.55,288.46 L196.01,289.55 L196.46,290.64 L196.91,291.72 L197.37,292.81 L197.82,293.89 L198.27,294.96 L198.73,296.03 L199.18,297.09 L199.63,298.13 L200.09,299.17 L200.54,300.18 L200.99,301.18 L201.45,302.16 L201.90,303.12 L202.35,304.05 L202.81,304.96 L203.26,305.85 L203.72,306.71 L204.17,307.54 L204.62,308.35 L205.08,309.12 L205.53,309.88 L205.98,310.60 L206.44,311.30 L206.89,311.97 L207.34,312.62 L207.80,313.24 L208.25,313.83 L208.70,314.41 L209.16,314.95 L209.61,315.48 L210.06,315.98 L210.52,316.46 L210.97,316.92 L211.42,317.36 L211.88,317.78 L212.33,318.18 L212.79,318.56 L213.24,318.93 L213.69,319.27 L214.15,319.60 L214.60,319.92 L215.05,320.22 L215.51,320.51 L215.96,320.78 L216.41,321.04 L216.87,321.28 L217.32,321.51 L217.77,321.73 L218.23,321.94 L218.68,322.13 L219.13,322.32 L219.59,322.49 L220.04,322.65 L220.49,322.81 L220.95,322.95 L221.40,323.08 L221.86,323.20 L222.31,323.32 L222.76,323.43 L223.22,323.52 L223.67,323.62 L224.12,323.70 L224.58,323.78 L225.03,323.86 L225.48,323.93 L225.94,324.00 L226.39,324.06 L226.84,324.12 L227.30,324.17 L227.75,324.22 L228.20,324.27 L228.66,324.32 L229.11,324.37 L229.57,324.41 L230.02,324.45 L230.47,324.49 L230.93,324.53 L231.38,324.57 L231.83,324.60 L232.29,324.64 L232.74,324.67 L233.19,324.70 L233.65,324.73 L234.10,324.76 L234.55,324.78 L235.01,324.81 L235.46,324.83 L235.91,324.85 L236.37,324.87 L236.82,324.89 L237.27,324.90 L237.73,324.92 L238.18,324.93 L238.64,324.94 L239.09,324.95 L239.54,324.95 L240.00,324.95 L240.45,324.96 L240.90,324.96 L241.36,324.95 L241.81,324.95 L242.26,324.94 L242.72,324.94 L243.17,324.93 L243.62,324.92 L244.08,324.91 L244.53,324.89 L244.98,324.88 L245.44,324.86 L245.89,324.84 L246.34,324.83 L246.80,324.81 L247.25,324.79 L247.71,324.76 L248.16,324.74 L248.61,324.71 L249.07,324.69 L249.52,324.66 L249.97,324.63 L250.43,324.60 L250.88,324.56 L251.33,324.52 L251.79,324.48 L252.24,324.44 L252.69,324.40 L253.15,324.35 L253.60,324.30 L254.05,324.24 L254.51,324.18 L254.96,324.12 L255.41,324.06 L255.87,323.99 L256.32,323.93 L256.78,323.86 L257.23,323.79 L257.68,323.71 L258.14,323.64 L258.59,323.57 L259.04,323.50 L259.50,323.43 L259.95,323.36 L260.40,323.29 L260.86,323.22 L261.31,323.15 L261.76,323.08 L262.22,323.01 L262.67,322.94 L263.12,322.87 L263.58,322.79 L264.03,322.71 L264.48,322.62 L264.94,322.53 L265.39,322.43 L265.85,322.32 L266.30,322.20 L266.75,322.07 L267.21,321.93 L267.66,321.77 L268.11,321.61 L268.57,321.43 L269.02,321.23 L269.47,321.03 L269.93,320.81 L270.38,320.58 L270.83,320.34 L271.29,320.09 L271.74,319.82 L272.19,319.55 L272.65,319.27 L273.10,318.98 L273.56,318.69 L274.01,318.39 L274.46,318.08 L274.92,317.77 L275.37,317.45 L275.82,317.13 L276.28,316.81 L276.73,316.49 L277.18,316.16 L277.64,315.83 L278.09,315.50 L278.54,315.18 L279.00,314.85 L279.45,314.52 L279.90,314.19 L280.36,313.87 L280.81,313.55 L281.26,313.23 L281.72,312.91 L282.17,312.59 L282.63,312.28 L283.08,311.97 L283.53,311.66 L283.99,311.36 L284.44,311.06 L284.89,310.76 L285.35,310.47 L285.80,310.18 L286.25,309.90 L286.71,309.62 L287.16,309.35 L287.61,309.08 L288.07,308.82 L288.52,308.57 L288.97,308.32 L289.43,308.08 L289.88,307.84 L290.33,307.62 L290.79,307.40 L291.24,307.18 L291.70,306.98 L292.15,306.78 L292.60,306.59 L293.06,306.40 L293.51,306.22 L293.96,306.04 L294.42,305.87 L294.87,305.71 L295.32,305.54 L295.78,305.39 L296.23,305.23 L296.68,305.08 L297.14,304.93 L297.59,304.78 L298.04,304.64 L298.50,304.50 L298.95,304.37 L299.40,304.23 L299.86,304.11 L300.31,303.98 L300.77,303.86 L301.22,303.75 L301.67,303.64 L302.13,303.53 L302.58,303.43 L303.03,303.34 L303.49,303.25 L303.94,303.17 L304.39,303.09 L304.85,303.02 L305.30,302.95 L305.75,302.89 L306.21,302.83 L306.66,302.78 L307.11,302.73 L307.57,302.69 L308.02,302.65 L308.47,302.61 L308.93,302.58 L309.38,302.55 L309.84,302.52 L310.29,302.50 L310.74,302.48 L311.20,302.46 L311.65,302.44 L312.10,302.42 L312.56,302.40 L313.01,302.39 L313.46,302.37 L313.92,302.36 L314.37,302.35 L314.82,302.33 L315.28,302.32 L315.73,302.31 L316.18,302.31 L316.64,302.30 L317.09,302.29 L317.55,302.28 L318.00,302.28 L318.45,302.27 L318.91,302.27 L319.36,302.27 L319.81,302.26 L320.27,302.26 L320.72,302.26 L321.17,302.26 L321.63,302.25 L322.08,302.25 L322.53,302.25 L322.99,302.25 L323.44,302.25 L323.89,302.25 L324.35,302.25 L324.80,302.25 L325.25,302.25 L325.71,302.25 L326.16,302.25 L326.62,302.25 L327.07,302.25 L327.52,302.25 L327.98,302.25 L328.43,302.25 L328.88,302.25 L329.34,302.25 L329.79,302.25 L330.24,302.25 L330.70,302.25 L331.15,302.25 L331.60,302.25 L332.06,302.25 L332.51,302.25 L332.96,302.25 L333.42,302.25 L333.87,302.25 L334.32,302.25 L334.78,302.25 L335.23,302.25 L335.69,302.25 L336.14,302.25 L336.59,302.25 L337.05,302.25 L337.50,302.25 L337.95,302.25 L338.41,302.25 L338.86,302.25 L339.31,302.25 L339.77,302.25 L340.22,302.25 L340.67,302.25 L341.13,302.25 L341.58,302.25 L342.03,302.25 L342.49,302.25 L342.94,302.25 L343.39,302.25 L343.85,302.25 L344.30,302.25 L344.76,302.25 L345.21,302.25 L345.66,302.25 L346.12,302.25 L346.57,302.25 L347.02,302.25 L347.48,302.25 L347.93,302.25 L348.38,302.25 L348.84,302.25 L349.29,302.25 L349.74,302.25 L350.20,302.25 L350.65,302.25 L351.10,302.25 L351.56,302.25 L352.01,302.25 L352.46,302.25 L352.92,302.25 L353.37,302.25 L353.83,302.25 L354.28,302.25 L354.73,302.25 L355.19,302.25 L355.64,302.25 L356.09,302.25 L356.55,302.25 L357.00,302.25" stroke="#00b000" stroke-width="1.5"/>
<path d="M40.00,282.30 L40.45,280.99 L40.91,279.75 L41.36,278.58 L41.81,277.47 L42.27,276.42 L42.72,275.42 L43.17,274.48 L43.63,273.58 L44.08,272.74 L44.54,271.93 L44.99,271.17 L45.44,270.46 L45.90,269.77 L46.35,269.13 L46.80,268.52 L47.26,267.94 L47.71,267.39 L48.16,266.87 L48.62,266.38 L49.07,265.92 L49.52,265.48 L49.98,265.06 L50.43,264.66 L50.88,264.29 L51.34,263.94 L51.79,263.60 L52.24,263.28 L52.70,262.98 L53.15,262.70 L53.61,262.43 L54.06,262.17 L54.51,261.93 L54.97,261.70 L55.42,261.48 L55.87,261.28 L56.33,261.08 L56.78,260.90 L57.23,260.72 L57.69,260.56 L58.14,260.40 L58.59,260.25 L59.05,260.11 L59.50,259.98 L59.95,259.85 L60.41,259.73 L60.86,259.62 L61.31,259.51 L61.77,259.41 L62.22,259.32 L62.68,259.23 L63.13,259.14 L63.58,259.06 L64.04,258.98 L64.49,258.91 L64.94,258.84 L65.40,258.77 L65.85,258.71 L66.30,258.65 L66.76,258.60 L67.21,258.54 L67.66,258.49 L68.12,258.45 L68.57,258.40 L69.02,258.36 L69.48,258.32 L69.93,258.28 L70.38,258.24 L70.84,258.21 L71.29,258.18 L71.75,258.15 L72.20,258.12 L72.65,258.09 L73.11,258.06 L73.56,258.04 L74.01,258.02 L74.47,257.99 L74.92,257.97 L75.37,257.95 L75.83,257.94 L76.28,257.92 L76.73,257.90 L77.19,257.88 L77.64,257.87 L78.09,257.86 L78.55,257.84 L79.00,257.83 L79.45,257.82 L79.91,257.81 L80.36,257.79 L80.82,257.78 L81.27,257.77 L81.72,257.77 L82.18,257.76 L82.63,257.75 L83.08,257.74 L83.54,257.73 L83.99,257.73 L84.44,257.72 L84.90,257.71 L85.35,257.71 L85.80,257.70 L86.26,257.70 L86.71,257.69 L87.16,257.69 L87.62,257.68 L88.07,257.68 L88.53,257.67 L88.98,257.67 L89.43,257.67 L89.89,257.66 L90.34,257.66 L90.79,257.66 L91.25,257.65 L91.70,257.65 L92.15,257.65 L92.61,257.64 L93.06,257.64 L93.51,257.64 L93.97,257.64 L94.42,257.64 L94.87,257.63 L95.33,257.63 L95.78,257.63 L96.23,257.63 L96.69,257.63 L97.14,257.63 L97.60,257.62 L98.05,257.62 L98.50,257.62 L98.96,257.62 L99.41,257.62 L99.86,257.62 L100.32,257.62 L100.77,257.62 L101.22,257.62 L101.68,257.62 L102.13,257.61 L102.58,257.61 L103.04,257.61 L103.49,257.61 L103.94,257.61 L104.40,257.61 L104.85,257.61 L105.30,257.61 L105.76,257.61 L106.21,257.61 L106.67,257.61 L107.12,257.61 L107.57,257.61 L108.03,257.61 L108.48,257.61 L108.93,257.61 L109.39,257.61 L109.84,257.61 L110.29,257.61 L110.75,257.61 L111.20,257.60 L111.65,257.60 L112.11,257.60 L112.56,257.60 L113.01,257.60 L113.47,257.60 L113.92,257.60 L114.37,257.60 L114.83,257.60 L115.28,257.60 L115.74,257.60 L116.19,257.60 L116.64,257.60 L117.10,257.60 L117.55,257.60 L118.00,257.60 L118.46,257.60 L118.91,257.60 L119.36,257.60 L119.82,257.60 L120.27,257.60 L120.72,257.60 L121.18,257.60 L121.63,257.60 L122.08,257.60 L122.54,257.60 L122.99,257.60 L123.44,257.60 L123.90,257.60 L124.35,257.60 L124.81,257.60 L125.26,257.60 L125.71,257.60 L126.17,257.59 L126.62,257.59 L127.07,257.58 L127.53,257.56 L127.98,257.55 L128.43,257.54 L128.89,257.52 L129.34,257.51 L129.79,257.49 L130.25,257.47 L130.70,257.45 L131.15,257.43 L131.61,257.42 L132.06,257.40 L132.52,257.38 L132.97,257.36 L133.42,257.33 L133.88,257.30 L134.33,257.28 L134.78,257.24 L135.24,257.21 L135.69,257.18 L136.14,257.15 L136.60,257.11 L137.05,257.08 L137.50,257.04 L137.96,257.00 L138.41,256.97 L138.86,256.93 L139.32,256.90 L139.77,256.86 L140.22,256.82 L140.68,256.78 L141.13,256.74 L141.59,256.70 L142.04,256.66 L142.49,256.61 L142.95,256.56 L143.40,256.51 L143.85,256.45 L144.31,256.40 L144.76,256.33 L145.21,256.27 L145.67,256.19 L146.12,256.10 L146.57,256.01 L147.03,255.90 L147.48,255.79 L147.93,255.67 L148.39,255.55 L148.84,255.42 L149.29,255.29 L149.75,255.15 L150.20,255.02 L150.66,254.88 L151.11,254.75 L151.56,254.61 L152.02,254.46 L152.47,254.31 L152.92,254.15 L153.38,253.98 L153.83,253.81 L154.28,253.62 L154.74,253.42 L155.19,253.21 L155.64,252.97 L156.10,252.71 L156.55,252.43 L157.00,252.13 L157.46,251.81 L157.91,251.47 L158.36,251.11 L158.82,250.70 L159.27,250.27 L159.73,249.80 L160.18,249.30 L160.63,248.75 L161.09,248.15 L161.54,247.52 L161.99,246.86 L162.45,246.16 L162.90,245.41 L163.35,244.63 L163.81,243.83 L164.26,242.98 L164.71,242.15 L165.17,241.27 L165.62,240.98 L166.07,242.18 L166.53,244.12 L166.98,246.61 L167.43,248.98 L167.89,251.18 L168.34,253.00 L168.80,254.60 L169.25,255.68 L169.70,256.34 L170.16,256.80 L170.61,257.08 L171.06,257.28 L171.52,257.40 L171.97,257.48 L172.42,257.53 L172.88,257.58 L173.33,257.64 L173.78,257.70 L174.24,257.75 L174.69,257.80 L175.14,257.86 L175.60,257.93 L176.05,258.01 L176.51,258.13 L176.96,258.28 L177.41,258.46 L177.87,258.67 L178.32,258.90 L178.77,259.16 L179.23,259.45 L179.68,259.77 L180.13,260.14 L180.59,260.56 L181.04,261.02 L181.49,261.52 L181.95,262.05 L182.40,262.56 L182.85,263.10 L183.31,263.67 L183.76,264.27 L184.21,264.90 L184.67,265.56 L185.12,266.26 L185.58,266.99 L186.03,267.74 L186.48,268.53 L186.94,269.34 L187.39,270.19 L187.84,271.05 L188.30,271.95 L188.75,272.87 L189.20,273.81 L189.66,274.78 L190.11,275.77 L190.56,276.77 L191.02,277.79 L191.47,278.82 L191.92,279.87 L192.38,280.92 L192.83,281.99 L193.28,283.06 L193.74,284.13 L194.19,285.21 L194.65,286.29 L195.10,287.38 L195.55,288.46 L196.01,289.55 L196.46,290.64 L196.91,291.72 L197.37,292.81 L197.82,293.89 L198.27,294.96 L198.73,296.03 L199.18,297.09 L199.63,298.13 L200.09,299.17 L200.54,300.18 L200.99,301.18 L201.45,302.16 L201.90,303.12 L202.35,304.05 L202.81,304.96 L203.26,305.85 L203.72,306.71 L204.17,307.54 L204.62,308.35 L205.08,309.12 L205.53,309.88 L205.98,310.60 L206.44,311.30 L206.89,311.97 L207.34,312.62 L207.80,313.24 L208.25,313.83 L208.70,314.41 L209.16,314.95 L209.61,315.48 L210.06,315.98 L210.52,316.46 L210.97,316.92 L211.42,317.36 L211.88,317.78 L212.33,318.18 L212.79,318.56 L213.24,318.93 L213.69,319.27 L214.15,319.60 L214.60,319.92 L215.05,320.22 L215.51,320.51 L215.96,320.78 L216.41,321.04 L216.87,321.28 L217.32,321.51 L217.77,321.73 L218.23,321.94 L218.68,322.13 L219.13,322.32 L219.59,322.49 L220.04,322.65 L220.49,322.81 L220.95,322.95 L221.40,323.08 L221.86,323.20 L222.31,323.32 L222.76,323.43 L223.22,323.52 L223.67,323.62 L224.12,323.70 L224.58,323.78 L225.03,323.86 L225.48,323.93 L225.94,324.00 L226.39,324.06 L226.84,324.12 L227.30,324.17 L227.75,324.22 L228.20,324.27 L228.66,324.32 L229.11,324.37 L229.57,324.41 L230.02,324.45 L230.47,324.49 L230.93,324.53 L231.38,324.57 L231.83,324.60 L232.29,324.64 L232.74,324.67 L233.19,324.70 L233.65,324.73 L234.10,324.76 L234.55,324.78 L235.01,324.81 L235.46,324.83 L235.91,324.85 L236.37,324.87 L236.82,324.89 L237.27,324.90 L237.73,324.92 L238.18,324.93 L238.64,324.94 L239.09,324.95 L239.54,324.95 L240.00,324.96 L240.45,324.96 L240.90,324.96 L241.36,324.96 L241.81,324.95 L242.26,324.95 L242.72,324.94 L243.17,324.93 L243.62,324.92 L244.08,324.91 L244.53,324.90 L244.98,324.88 L245.44,324.87 L245.89,324.85 L246.34,324.83 L246.80,324.81 L247.25,324.79 L247.71,324.77 L248.16,324.74 L248.61,324.72 L249.07,324.69 L249.52,324.66 L249.97,324.63 L250.43,324.59 L250.88,324.55 L251.33,324.51 L251.79,324.47 L252.24,324.42 L252.69,324.37 L253.15,324.31 L253.60,324.25 L254.05,324.18 L254.51,324.11 L254.96,324.03 L255.41,323.94 L255.87,323.85 L256.32,323.76 L256.78,323.65 L257.23,323.54 L257.68,323.43 L258.14,323.31 L258.59,323.18 L259.04,323.04 L259.50,322.90 L259.95,322.75 L260.40,322.59 L260.86,322.42 L261.31,322.24 L261.76,322.05 L262.22,321.85 L262.67,321.64 L263.12,321.42 L263.58,321.18 L264.03,320.93 L264.48,320.67 L264.94,320.39 L265.39,320.09 L265.85,319.78 L266.30,319.46 L266.75,319.11 L267.21,318.75 L267.66,318.38 L268.11,317.98 L268.57,317.56 L269.02,317.13 L269.47,316.68 L269.93,316.20 L270.38,315.70 L270.83,315.19 L271.29,314.65 L271.74,314.09 L272.19,313.50 L272.65,312.90 L273.10,312.27 L273.56,311.62 L274.01,310.95 L274.46,310.26 L274.92,309.54 L275.37,308.81 L275.82,308.06 L276.28,307.29 L276.73,306.51 L277.18,305.72 L277.64,304.91 L278.09,304.09 L278.54,303.27 L279.00,302.43 L279.45,301.60 L279.90,300.77 L280.36,299.93 L280.81,299.10 L281.26,298.27 L281.72,297.45 L282.17,296.63 L282.63,295.81 L283.08,295.00 L283.53,294.20 L283.99,293.39 L284.44,292.59 L284.89,291.79 L285.35,290.98 L285.80,290.17 L286.25,289.36 L286.71,288.54 L287.16,287.72 L287.61,286.89 L288.07,286.07 L288.52,285.23 L288.97,284.40 L289.43,283.57 L289.88,282.74 L290.33,281.92 L290.79,281.10 L291.24,280.29 L291.70,279.49 L292.15,278.70 L292.60,277.92 L293.06,277.15 L293.51,276.40 L293.96,275.67 L294.42,274.94 L294.87,274.24 L295.32,273.55 L295.78,272.87 L296.23,272.22 L296.68,271.57 L297.14,270.95 L297.59,270.35 L298.04,269.76 L298.50,269.19 L298.95,268.64 L299.40,268.11 L299.86,267.59 L300.31,267.10 L300.77,266.62 L301.22,266.17 L301.67,265.73 L302.13,265.31 L302.58,264.91 L303.03,264.52 L303.49,264.15 L303.94,263.80 L304.39,263.47 L304.85,263.15 L305.30,262.85 L305.75,262.56 L306.21,262.29 L306.66,262.03 L307.11,261.78 L307.57,261.55 L308.02,261.33 L308.47,261.12 L308.93,260.92 L309.38,260.72 L309.84,260.54 L310.29,260.37 L310.74,260.21 L311.20,260.05 L311.65,259.90 L312.10,259.76 L312.56,259.63 L313.01,259.50 L313.46,259.38 L313.92,259.27 L314.37,259.16 L314.82,259.06 L315.28,258.97 L315.73,258.88 L316.18,258.79 L316.64,258.72 L317.09,258.64 L317.55,258.57 L318.00,258.51 L318.45,258.45 L318.91,258.40 L319.36,258.35 L319.81,258.30 L320.27,258.26 L320.72,258.21 L321.17,258.18 L321.63,258.14 L322.08,258.11 L322.53,258.08 L322.99,258.05 L323.44,258.03 L323.89,258.01 L324.35,257.98 L324.80,257.96 L325.25,257.94 L325.71,257.93 L326.16,257.91 L326.62,257.90 L327.07,257.88 L327.52,257.87 L327.98,257.86 L328.43,257.85 L328.88,257.84 L329.34,257.83 L329.79,257.82 L330.24,257.81 L330.70,257.81 L331.15,257.80 L331.60,257.80 L332.06,257.79 L332.51,257.79 L332.96,257.78 L333.42,257.78 L333.87,257.77 L334.32,257.77 L334.78,257.77 L335.23,257.77 L335.69,257.76 L336.14,257.76 L336.59,257.76 L337.05,257.75 L337.50,257.75 L337.95,257.75 L338.41,257.75 L338.86,257.75 L339.31,257.74 L339.77,257.74 L340.22,257.74 L340.67,257.74 L341.13,257.73 L341.58,257.73 L342.03,257.73 L342.49,257.73 L342.94,257.73 L343.39,257.73 L343.85,257.72 L344.30,257.72 L344.76,257.72 L345.21,257.72 L345.66,257.72 L346.12,257.72 L346.57,257.72 L347.02,257.71 L347.48,257.71 L347.93,257.71 L348.38,257.71 L348.84,257.71 L349.29,257.71 L349.74,257.71 L350.20,257.71 L350.65,257.71 L351.10,257.71 L351.56,257.70 L352.01,257.70 L352.46,257.70 L352.92,257.70 L353.37,257.70 L353.83,257.70 L354.28,257.70 L354.73,257.70 L355.19,257.70 L355.64,257.70 L356.09,257.70 L356.55,257.70 L357.00,257.70" stroke="#0000ff" stroke-width="1.5"/>
<path d="M40.00,267.71 L40.45,268.07 L40.91,268.39 L41.36,268.69 L41.81,268.97 L42.27,269.22 L42.72,269.45 L43.17,269.66 L43.63,269.86 L44.08,270.04 L44.54,270.21 L44.99,270.36 L45.44,270.51 L45.90,270.64 L46.35,270.77 L46.80,270.88 L47.26,270.99 L47.71,271.09 L48.16,271.19 L48.62,271.28 L49.07,271.36 L49.52,271.44 L49.98,271.51 L50.43,271.58 L50.88,271.64 L51.34,271.70 L51.79,271.76 L52.24,271.81 L52.70,271.86 L53.15,271.91 L53.61,271.95 L54.06,272.00 L54.51,272.04 L54.97,272.07 L55.42,272.11 L55.87,272.14 L56.33,272.17 L56.78,272.20 L57.23,272.23 L57.69,272.25 L58.14,272.28 L58.59,272.30 L59.05,272.32 L59.50,272.34 L59.95,272.36 L60.41,272.38 L60.86,272.40 L61.31,272.41 L61.77,272.43 L62.22,272.44 L62.68,272.46 L63.13,272.47 L63.58,272.48 L64.04,272.50 L64.49,272.51 L64.94,272.52 L65.40,272.53 L65.85,272.54 L66.30,272.54 L66.76,272.55 L67.21,272.56 L67.66,272.57 L68.12,272.58 L68.57,272.58 L69.02,272.59 L69.48,272.59 L69.93,272.60 L70.38,272.61 L70.84,272.61 L71.29,272.62 L71.75,272.62 L72.20,272.62 L72.65,272.63 L73.11,272.63 L73.56,272.64 L74.01,272.64 L74.47,272.64 L74.92,272.65 L75.37,272.65 L75.83,272.65 L76.28,272.65 L76.73,272.66 L77.19,272.66 L77.64,272.66 L78.09,272.66 L78.55,272.66 L79.00,272.67 L79.45,272.67 L79.91,272.67 L80.36,272.67 L80.82,272.67 L81.27,272.67 L81.72,272.68 L82.18,272.68 L82.63,272.68 L83.08,272.68 L83.54,272.68 L83.99,272.68 L84.44,272.68 L84.90,272.68 L85.35,272.68 L85.80,272.69 L86.26,272.69 L86.71,272.69 L87.16,272.69 L87.62,272.69 L88.07,272.69 L88.53,272.69 L88.98,272.69 L89.43,272.69 L89.89,272.69 L90.34,272.69 L90.79,272.69 L91.25,272.69 L91.70,272.69 L92.15,272.69 L92.61,272.69 L93.06,272.69 L93.51,272.69 L93.97,272.69 L94.42,272.69 L94.87,272.70 L95.33,272.70 L95.78,272.70 L96.23,272.70 L96.69,272.70 L97.14,272.70 L97.60,272.70 L98.05,272.70 L98.50,272.70 L98.96,272.70 L99.41,272.70 L99.86,272.70 L100.32,272.70 L100.77,272.70 L101.22,272.70 L101.68,272.70 L102.13,272.70 L102.58,272.70 L103.04,272.70 L103.49,272.70 L103.94,272.70 L104.40,272.70 L104.85,272.70 L105.30,272.70 L105.76,272.70 L106.21,272.70 L106.67,272.70 L107.12,272.70 L107.57,272.70 L108.03,272.70 L108.48,272.70 L108.93,272.70 L109.39,272.70 L109.84,272.70 L110.29,272.70 L110.75,272.70 L111.20,272.70 L111.65,272.70 L112.11,272.70 L112.56,272.70 L113.01,272.70 L113.47,272.70 L113.92,272.70 L114.37,272.70 L114.83,272.70 L115.28,272.70 L115.74,272.70 L116.19,272.70 L116.64,272.70 L117.10,272.70 L117.55,272.70 L118.00,272.70 L118.46,272.70 L118.91,272.70 L119.36,272.70 L119.82,272.70 L120.27,272.70 L120.72,272.70 L121.18,272.70 L121.63,272.70 L122.08,272.70 L122.54,272.70 L122.99,272.70 L123.44,272.70 L123.90,272.70 L124.35,272.70 L124.81,272.70 L125.26,272.70 L125.71,272.70 L126.17,272.70 L126.62,272.70 L127.07,272.70 L127.53,272.70 L127.98,272.70 L128.43,272.70 L128.89,272.70 L129.34,272.70 L129.79,272.70 L130.25,272.70 L130.70,272.70 L131.15,272.70 L131.61,272.70 L132.06,272.70 L132.52,272.70 L132.97,272.70 L133.42,272.70 L133.88,272.70 L134.33,272.70 L134.78,272.70 L135.24,272.70 L135.69,272.70 L136.14,272.70 L136.60,272.70 L137.05,272.70 L137.50,272.70 L137.96,272.70 L138.41,272.70 L138.86,272.70 L139.32,272.70 L139.77,272.70 L140.22,272.70 L140.68,272.70 L141.13,272.70 L141.59,272.70 L142.04,272.70 L142.49,272.70 L142.95,272.70 L143.40,272.70 L143.85,272.70 L144.31,272.70 L144.76,272.70 L145.21,272.70 L145.67,272.70 L146.12,272.70 L146.57,272.70 L147.03,272.70 L147.48,272.70 L147.93,272.70 L148.39,272.70 L148.84,272.70 L149.29,272.70 L149.75,272.70 L150.20,272.70 L150.66,272.70 L151.11,272.70 L151.56,272.70 L152.02,272.70 L152.47,272.70 L152.92,272.70 L153.38,272.70 L153.83,272.70 L154.28,272.70 L154.74,272.70 L155.19,272.70 L155.64,272.70 L156.10,272.70 L156.55,272.70 L157.00,272.70 L157.46,272.70 L157.91,272.70 L158.36,272.70 L158.82,272.70 L159.27,272.70 L159.73,272.70 L160.18,272.70 L160.63,272.68 L161.09,272.64 L161.54,272.59 L161.99,272.53 L162.45,272.46 L162.90,272.36 L163.35,272.20 L163.81,271.98 L164.26,271.68 L164.71,271.12 L165.17,270.36 L165.62,269.25 L166.07,267.74 L166.53,265.90 L166.98,264.04 L167.43,262.23 L167.89,260.74 L168.34,259.56 L168.80,258.67 L169.25,258.15 L169.70,257.85 L170.16,257.66 L170.61,257.60 L171.06,257.60 L171.52,257.60 L171.97,257.60 L172.42,257.61 L172.88,257.63 L173.33,257.66 L173.78,257.70 L174.24,257.75 L174.69,257.81 L175.14,257.87 L175.60,257.94 L176.05,258.01 L176.51,258.13 L176.96,258.28 L177.41,258.45 L177.87,258.66 L178.32,258.89 L178.77,259.15 L179.23,259.45 L179.68,259.77 L180.13,260.14 L180.59,260.55 L181.04,261.02 L181.49,261.52 L181.95,262.05 L182.40,262.56 L182.85,263.10 L183.31,263.66 L183.76,264.27 L184.21,264.90 L184.67,265.56 L185.12,266.26 L185.58,266.99 L186.03,267.74 L186.48,268.53 L186.94,269.34 L187.39,270.19 L187.84,271.05 L188.30,271.95 L188.75,272.87 L189.20,273.81 L189.66,274.78 L190.11,275.77 L190.56,276.77 L191.02,277.79 L191.47,278.82 L191.92,279.87 L192.38,280.92 L192.83,281.99 L193.28,283.06 L193.74,284.13 L194.19,285.21 L194.65,286.29 L195.10,287.38 L195.55,288.46 L196.01,289.55 L196.46,290.64 L196.91,291.72 L197.37,292.81 L197.82,293.89 L198.27,294.96 L198.73,296.03 L199.18,297.09 L199.63,298.13 L200.09,299.17 L200.54,300.18 L200.99,301.18 L201.45,302.16 L201.90,303.12 L202.35,304.05 L202.81,304.96 L203.26,305.85 L203.72,306.71 L204.17,307.54 L204.62,308.35 L205.08,309.12 L205.53,309.88 L205.98,310.60 L206.44,311.30 L206.89,311.97 L207.34,312.62 L207.80,313.24 L208.25,313.83 L208.70,314.41 L209.16,314.95 L209.61,315.48 L210.06,315.98 L210.52,316.46 L210.97,316.92 L211.42,317.36 L211.88,317.78 L212.33,318.18 L212.79,318.56 L213.24,318.93 L213.69,319.27 L214.15,319.60 L214.60,319.92 L215.05,320.22 L215.51,320.51 L215.96,320.78 L216.41,321.04 L216.87,321.28 L217.32,321.51 L217.77,321.73 L218.23,321.94 L218.68,322.13 L219.13,322.32 L219.59,322.49 L220.04,322.65 L220.49,322.81 L220.95,322.95 L221.40,323.08 L221.86,323.20 L222.31,323.32 L222.76,323.43 L223.22,323.52 L223.67,323.62 L224.12,323.70 L224.58,323.78 L225.03,323.86 L225.48,323.93 L225.94,324.00 L226.39,324.06 L226.84,324.12 L227.30,324.17 L227.75,324.22 L228.20,324.27 L228.66,324.32 L229.11,324.37 L229.57,324.41 L230.02,324.45 L230.47,324.49 L230.93,324.53 L231.38,324.57 L231.83,324.60 L232.29,324.64 L232.74,324.67 L233.19,324.70 L233.65,324.73 L234.10,324.76 L234.55,324.78 L235.01,324.81 L235.46,324.83 L235.91,324.85 L236.37,324.87 L236.82,324.89 L237.27,324.90 L237.73,324.92 L238.18,324.93 L238.64,324.94 L239.09,324.95 L239.54,324.95 L240.00,324.95 L240.45,324.96 L240.90,324.96 L241.36,324.95 L241.81,324.95 L242.26,324.94 L242.72,324.94 L243.17,324.93 L243.62,324.92 L244.08,324.91 L244.53,324.89 L244.98,324.88 L245.44,324.86 L245.89,324.84 L246.34,324.83 L246.80,324.81 L247.25,324.79 L247.71,324.76 L248.16,324.74 L248.61,324.71 L249.07,324.69 L249.52,324.66 L249.97,324.63 L250.43,324.60 L250.88,324.56 L251.33,324.52 L251.79,324.48 L252.24,324.44 L252.69,324.40 L253.15,324.35 L253.60,324.30 L254.05,324.24 L254.51,324.18 L254.96,324.12 L255.41,324.06 L255.87,323.99 L256.32,323.93 L256.78,323.86 L257.23,323.79 L257.68,323.71 L258.14,323.64 L258.59,323.57 L259.04,323.50 L259.50,323.43 L259.95,323.36 L260.40,323.29 L260.86,323.22 L261.31,323.15 L261.76,323.08 L262.22,323.01 L262.67,322.94 L263.12,322.87 L263.58,322.79 L264.03,322.71 L264.48,322.62 L264.94,322.53 L265.39,322.43 L265.85,322.32 L266.30,322.20 L266.75,322.07 L267.21,321.93 L267.66,321.77 L268.11,321.61 L268.57,321.43 L269.02,321.23 L269.47,321.03 L269.93,320.81 L270.38,320.58 L270.83,320.34 L271.29,320.09 L271.74,319.82 L272.19,319.55 L272.65,319.27 L273.10,318.98 L273.56,318.69 L274.01,318.39 L274.46,318.08 L274.92,317.77 L275.37,317.45 L275.82,317.13 L276.28,316.81 L276.73,316.49 L277.18,316.16 L277.64,315.83 L278.09,315.50 L278.54,315.18 L279.00,314.85 L279.45,314.52 L279.90,314.19 L280.36,313.87 L280.81,313.55 L281.26,313.23 L281.72,312.91 L282.17,312.59 L282.63,312.28 L283.08,311.97 L283.53,311.66 L283.99,311.36 L284.44,311.06 L284.89,310.76 L285.35,310.47 L285.80,310.18 L286.25,309.90 L286.71,309.62 L287.16,309.35 L287.61,309.08 L288.07,308.82 L288.52,308.57 L288.97,308.32 L289.43,308.08 L289.88,307.84 L290.33,307.62 L290.79,307.40 L291.24,307.18 L291.70,306.98 L292.15,306.78 L292.60,306.59 L293.06,306.40 L293.51,306.22 L293.96,306.04 L294.42,305.87 L294.87,305.71 L295.32,305.54 L295.78,305.39 L296.23,305.23 L296.68,305.08 L297.14,304.93 L297.59,304.78 L298.04,304.64 L298.50,304.50 L298.95,304.37 L299.40,304.23 L299.86,304.11 L300.31,303.98 L300.77,303.86 L301.22,303.75 L301.67,303.64 L302.13,303.53 L302.58,303.43 L303.03,303.34 L303.49,303.25 L303.94,303.17 L304.39,303.09 L304.85,303.02 L305.30,302.95 L305.75,302.89 L306.21,302.83 L306.66,302.78 L307.11,302.73 L307.57,302.69 L308.02,302.65 L308.47,302.61 L308.93,302.58 L309.38,302.55 L309.84,302.52 L310.29,302.50 L310.74,302.48 L311.20,302.46 L311.65,302.44 L312.10,302.42 L312.56,302.40 L313.01,302.39 L313.46,302.37 L313.92,302.36 L314.37,302.35 L314.82,302.33 L315.28,302.32 L315.73,302.31 L316.18,302.31 L316.64,302.30 L317.09,302.29 L317.55,302.28 L318.00,302.28 L318.45,302.27 L318.91,302.27 L319.36,302.27 L319.81,302.26 L320.27,302.26 L320.72,302.26 L321.17,302.26 L321.63,302.25 L322.08,302.25 L322.53,302.25 L322.99,302.25 L323.44,302.25 L323.89,302.25 L324.35,302.25 L324.80,302.25 L325.25,302.25 L325.71,302.25 L326.16,302.25 L326.62,302.25 L327.07,302.25 L327.52,302.25 L327.98,302.25 L328.43,302.25 L328.88,302.25 L329.34,302.25 L329.79,302.25 L330.24,302.25 L330.70,302.25 L331.15,302.25 L331.60,302.25 L332.06,302.25 L332.51,302.25 L332.96,302.25 L333.42,302.25 L333.87,302.25 L334.32,302.25 L334.78,302.25 L335.23,302.25 L335.69,302.25 L336.14,302.25 L336.59,302.25 L337.05,302.25 L337.50,302.25 L337.95,302.25 L338.41,302.25 L338.86,302.25 L339.31,302.25 L339.77,302.25 L340.22,302.25 L340.67,302.25 L341.13,302.25 L341.58,302.25 L342.03,302.25 L342.49,302.25 L342.94,302.25 L343.39,302.25 L343.85,302.25 L344.30,302.25 L344.76,302.25 L345.21,302.25 L345.66,302.25 L346.12,302.25 L346.57,302.25 L347.02,302.25 L347.48,302.25 L347.93,302.25 L348.38,302.25 L348.84,302.25 L349.29,302.25 L349.74,302.25 L350.20,302.25 L350.65,302.25 L351.10,302.25 L351.56,302.25 L352.01,302.25 L352.46,302.25 L352.92,302.25 L353.37,302.25 L353.83,302.25 L354.28,302.25 L354.73,302.25 L355.19,302.25 L355.64,302.25 L356.09,302.25 L356.55,302.25 L357.00,302.25" stroke="#000" stroke-width="0.95" stroke-dasharray="3.2,1.3"/>
</g>
<g fill="none" stroke="#3a3a3a" stroke-width="1">
<path d="M40.05,39.95 H360.05 V359.7 H40.05 Z"/>
<path d="M40,232 L360,232"/>
<path d="M40.00,40.00 L40.00,43.00 M40.00,232.00 L40.00,229.00 M40.00,232.00 L40.00,235.00 M40.00,360.00 L40.00,357.00 M50.70,40.00 L50.70,41.35 M50.70,232.00 L50.70,230.65 M50.70,232.00 L50.70,233.35 M50.70,360.00 L50.70,358.65 M56.96,40.00 L56.96,41.35 M56.96,232.00 L56.96,230.65 M56.96,232.00 L56.96,233.35 M56.96,360.00 L56.96,358.65 M61.41,40.00 L61.41,41.35 M61.41,232.00 L61.41,230.65 M61.41,232.00 L61.41,233.35 M61.41,360.00 L61.41,358.65 M64.85,40.00 L64.85,41.35 M64.85,232.00 L64.85,230.65 M64.85,232.00 L64.85,233.35 M64.85,360.00 L64.85,358.65 M67.67,40.00 L67.67,41.35 M67.67,232.00 L67.67,230.65 M67.67,232.00 L67.67,233.35 M67.67,360.00 L67.67,358.65 M70.05,40.00 L70.05,41.35 M70.05,232.00 L70.05,230.65 M70.05,232.00 L70.05,233.35 M70.05,360.00 L70.05,358.65 M72.11,40.00 L72.11,41.35 M72.11,232.00 L72.11,230.65 M72.11,232.00 L72.11,233.35 M72.11,360.00 L72.11,358.65 M73.93,40.00 L73.93,41.35 M73.93,232.00 L73.93,230.65 M73.93,232.00 L73.93,233.35 M73.93,360.00 L73.93,358.65 M75.56,40.00 L75.56,43.00 M75.56,232.00 L75.56,229.00 M75.56,232.00 L75.56,235.00 M75.56,360.00 L75.56,357.00 M86.26,40.00 L86.26,41.35 M86.26,232.00 L86.26,230.65 M86.26,232.00 L86.26,233.35 M86.26,360.00 L86.26,358.65 M92.52,40.00 L92.52,41.35 M92.52,232.00 L92.52,230.65 M92.52,232.00 L92.52,233.35 M92.52,360.00 L92.52,358.65 M96.96,40.00 L96.96,41.35 M96.96,232.00 L96.96,230.65 M96.96,232.00 L96.96,233.35 M96.96,360.00 L96.96,358.65 M100.41,40.00 L100.41,41.35 M100.41,232.00 L100.41,230.65 M100.41,232.00 L100.41,233.35 M100.41,360.00 L100.41,358.65 M103.22,40.00 L103.22,41.35 M103.22,232.00 L103.22,230.65 M103.22,232.00 L103.22,233.35 M103.22,360.00 L103.22,358.65 M105.60,40.00 L105.60,41.35 M105.60,232.00 L105.60,230.65 M105.60,232.00 L105.60,233.35 M105.60,360.00 L105.60,358.65 M107.67,40.00 L107.67,41.35 M107.67,232.00 L107.67,230.65 M107.67,232.00 L107.67,233.35 M107.67,360.00 L107.67,358.65 M109.48,40.00 L109.48,41.35 M109.48,232.00 L109.48,230.65 M109.48,232.00 L109.48,233.35 M109.48,360.00 L109.48,358.65 M111.11,40.00 L111.11,43.00 M111.11,232.00 L111.11,229.00 M111.11,232.00 L111.11,235.00 M111.11,360.00 L111.11,357.00 M121.81,40.00 L121.81,41.35 M121.81,232.00 L121.81,230.65 M121.81,232.00 L121.81,233.35 M121.81,360.00 L121.81,358.65 M128.08,40.00 L128.08,41.35 M128.08,232.00 L128.08,230.65 M128.08,232.00 L128.08,233.35 M128.08,360.00 L128.08,358.65 M132.52,40.00 L132.52,41.35 M132.52,232.00 L132.52,230.65 M132.52,232.00 L132.52,233.35 M132.52,360.00 L132.52,358.65 M135.96,40.00 L135.96,41.35 M135.96,232.00 L135.96,230.65 M135.96,232.00 L135.96,233.35 M135.96,360.00 L135.96,358.65 M138.78,40.00 L138.78,41.35 M138.78,232.00 L138.78,230.65 M138.78,232.00 L138.78,233.35 M138.78,360.00 L138.78,358.65 M141.16,40.00 L141.16,41.35 M141.16,232.00 L141.16,230.65 M141.16,232.00 L141.16,233.35 M141.16,360.00 L141.16,358.65 M143.22,40.00 L143.22,41.35 M143.22,232.00 L143.22,230.65 M143.22,232.00 L143.22,233.35 M143.22,360.00 L143.22,358.65 M145.04,40.00 L145.04,41.35 M145.04,232.00 L145.04,230.65 M145.04,232.00 L145.04,233.35 M145.04,360.00 L145.04,358.65 M146.67,40.00 L146.67,43.00 M146.67,232.00 L146.67,229.00 M146.67,232.00 L146.67,235.00 M146.67,360.00 L146.67,357.00 M157.37,40.00 L157.37,41.35 M157.37,232.00 L157.37,230.65 M157.37,232.00 L157.37,233.35 M157.37,360.00 L157.37,358.65 M163.63,40.00 L163.63,41.35 M163.63,232.00 L163.63,230.65 M163.63,232.00 L163.63,233.35 M163.63,360.00 L163.63,358.65 M168.07,40.00 L168.07,41.35 M168.07,232.00 L168.07,230.65 M168.07,232.00 L168.07,233.35 M168.07,360.00 L168.07,358.65 M171.52,40.00 L171.52,41.35 M171.52,232.00 L171.52,230.65 M171.52,232.00 L171.52,233.35 M171.52,360.00 L171.52,358.65 M174.33,40.00 L174.33,41.35 M174.33,232.00 L174.33,230.65 M174.33,232.00 L174.33,233.35 M174.33,360.00 L174.33,358.65 M176.71,40.00 L176.71,41.35 M176.71,232.00 L176.71,230.65 M176.71,232.00 L176.71,233.35 M176.71,360.00 L176.71,358.65 M178.78,40.00 L178.78,41.35 M178.78,232.00 L178.78,230.65 M178.78,232.00 L178.78,233.35 M178.78,360.00 L178.78,358.65 M180.60,40.00 L180.60,41.35 M180.60,232.00 L180.60,230.65 M180.60,232.00 L180.60,233.35 M180.60,360.00 L180.60,358.65 M182.22,40.00 L182.22,43.00 M182.22,232.00 L182.22,229.00 M182.22,232.00 L182.22,235.00 M182.22,360.00 L182.22,357.00 M192.93,40.00 L192.93,41.35 M192.93,232.00 L192.93,230.65 M192.93,232.00 L192.93,233.35 M192.93,360.00 L192.93,358.65 M199.19,40.00 L199.19,41.35 M199.19,232.00 L199.19,230.65 M199.19,232.00 L199.19,233.35 M199.19,360.00 L199.19,358.65 M203.63,40.00 L203.63,41.35 M203.63,232.00 L203.63,230.65 M203.63,232.00 L203.63,233.35 M203.63,360.00 L203.63,358.65 M207.07,40.00 L207.07,41.35 M207.07,232.00 L207.07,230.65 M207.07,232.00 L207.07,233.35 M207.07,360.00 L207.07,358.65 M209.89,40.00 L209.89,41.35 M209.89,232.00 L209.89,230.65 M209.89,232.00 L209.89,233.35 M209.89,360.00 L209.89,358.65 M212.27,40.00 L212.27,41.35 M212.27,232.00 L212.27,230.65 M212.27,232.00 L212.27,233.35 M212.27,360.00 L212.27,358.65 M214.33,40.00 L214.33,41.35 M214.33,232.00 L214.33,230.65 M214.33,232.00 L214.33,233.35 M214.33,360.00 L214.33,358.65 M216.15,40.00 L216.15,41.35 M216.15,232.00 L216.15,230.65 M216.15,232.00 L216.15,233.35 M216.15,360.00 L216.15,358.65 M217.78,40.00 L217.78,43.00 M217.78,232.00 L217.78,229.00 M217.78,232.00 L217.78,235.00 M217.78,360.00 L217.78,357.00 M228.48,40.00 L228.48,41.35 M228.48,232.00 L228.48,230.65 M228.48,232.00 L228.48,233.35 M228.48,360.00 L228.48,358.65 M234.74,40.00 L234.74,41.35 M234.74,232.00 L234.74,230.65 M234.74,232.00 L234.74,233.35 M234.74,360.00 L234.74,358.65 M239.18,40.00 L239.18,41.35 M239.18,232.00 L239.18,230.65 M239.18,232.00 L239.18,233.35 M239.18,360.00 L239.18,358.65 M242.63,40.00 L242.63,41.35 M242.63,232.00 L242.63,230.65 M242.63,232.00 L242.63,233.35 M242.63,360.00 L242.63,358.65 M245.45,40.00 L245.45,41.35 M245.45,232.00 L245.45,230.65 M245.45,232.00 L245.45,233.35 M245.45,360.00 L245.45,358.65 M247.83,40.00 L247.83,41.35 M247.83,232.00 L247.83,230.65 M247.83,232.00 L247.83,233.35 M247.83,360.00 L247.83,358.65 M249.89,40.00 L249.89,41.35 M249.89,232.00 L249.89,230.65 M249.89,232.00 L249.89,233.35 M249.89,360.00 L249.89,358.65 M251.71,40.00 L251.71,41.35 M251.71,232.00 L251.71,230.65 M251.71,232.00 L251.71,233.35 M251.71,360.00 L251.71,358.65 M253.33,40.00 L253.33,43.00 M253.33,232.00 L253.33,229.00 M253.33,232.00 L253.33,235.00 M253.33,360.00 L253.33,357.00 M264.04,40.00 L264.04,41.35 M264.04,232.00 L264.04,230.65 M264.04,232.00 L264.04,233.35 M264.04,360.00 L264.04,358.65 M270.30,40.00 L270.30,41.35 M270.30,232.00 L270.30,230.65 M270.30,232.00 L270.30,233.35 M270.30,360.00 L270.30,358.65 M274.74,40.00 L274.74,41.35 M274.74,232.00 L274.74,230.65 M274.74,232.00 L274.74,233.35 M274.74,360.00 L274.74,358.65 M278.19,40.00 L278.19,41.35 M278.19,232.00 L278.19,230.65 M278.19,232.00 L278.19,233.35 M278.19,360.00 L278.19,358.65 M281.00,40.00 L281.00,41.35 M281.00,232.00 L281.00,230.65 M281.00,232.00 L281.00,233.35 M281.00,360.00 L281.00,358.65 M283.38,40.00 L283.38,41.35 M283.38,232.00 L283.38,230.65 M283.38,232.00 L283.38,233.35 M283.38,360.00 L283.38,358.65 M285.44,40.00 L285.44,41.35 M285.44,232.00 L285.44,230.65 M285.44,232.00 L285.44,233.35 M285.44,360.00 L285.44,358.65 M287.26,40.00 L287.26,41.35 M287.26,232.00 L287.26,230.65 M287.26,232.00 L287.26,233.35 M287.26,360.00 L287.26,358.65 M288.89,40.00 L288.89,43.00 M288.89,232.00 L288.89,229.00 M288.89,232.00 L288.89,235.00 M288.89,360.00 L288.89,357.00 M299.59,40.00 L299.59,41.35 M299.59,232.00 L299.59,230.65 M299.59,232.00 L299.59,233.35 M299.59,360.00 L299.59,358.65 M305.85,40.00 L305.85,41.35 M305.85,232.00 L305.85,230.65 M305.85,232.00 L305.85,233.35 M305.85,360.00 L305.85,358.65 M310.30,40.00 L310.30,41.35 M310.30,232.00 L310.30,230.65 M310.30,232.00 L310.30,233.35 M310.30,360.00 L310.30,358.65 M313.74,40.00 L313.74,41.35 M313.74,232.00 L313.74,230.65 M313.74,232.00 L313.74,233.35 M313.74,360.00 L313.74,358.65 M316.56,40.00 L316.56,41.35 M316.56,232.00 L316.56,230.65 M316.56,232.00 L316.56,233.35 M316.56,360.00 L316.56,358.65 M318.94,40.00 L318.94,41.35 M318.94,232.00 L318.94,230.65 M318.94,232.00 L318.94,233.35 M318.94,360.00 L318.94,358.65 M321.00,40.00 L321.00,41.35 M321.00,232.00 L321.00,230.65 M321.00,232.00 L321.00,233.35 M321.00,360.00 L321.00,358.65 M322.82,40.00 L322.82,41.35 M322.82,232.00 L322.82,230.65 M322.82,232.00 L322.82,233.35 M322.82,360.00 L322.82,358.65 M324.44,40.00 L324.44,43.00 M324.44,232.00 L324.44,229.00 M324.44,232.00 L324.44,235.00 M324.44,360.00 L324.44,357.00 M335.15,40.00 L335.15,41.35 M335.15,232.00 L335.15,230.65 M335.15,232.00 L335.15,233.35 M335.15,360.00 L335.15,358.65 M341.41,40.00 L341.41,41.35 M341.41,232.00 L341.41,230.65 M341.41,232.00 L341.41,233.35 M341.41,360.00 L341.41,358.65 M345.85,40.00 L345.85,41.35 M345.85,232.00 L345.85,230.65 M345.85,232.00 L345.85,233.35 M345.85,360.00 L345.85,358.65 M349.30,40.00 L349.30,41.35 M349.30,232.00 L349.30,230.65 M349.30,232.00 L349.30,233.35 M349.30,360.00 L349.30,358.65 M352.11,40.00 L352.11,41.35 M352.11,232.00 L352.11,230.65 M352.11,232.00 L352.11,233.35 M352.11,360.00 L352.11,358.65 M354.49,40.00 L354.49,41.35 M354.49,232.00 L354.49,230.65 M354.49,232.00 L354.49,233.35 M354.49,360.00 L354.49,358.65 M356.55,40.00 L356.55,41.35 M356.55,232.00 L356.55,230.65 M356.55,232.00 L356.55,233.35 M356.55,360.00 L356.55,358.65 M358.37,40.00 L358.37,41.35 M358.37,232.00 L358.37,230.65 M358.37,232.00 L358.37,233.35 M358.37,360.00 L358.37,358.65 M360.00,40.00 L360.00,43.00 M360.00,232.00 L360.00,229.00 M360.00,232.00 L360.00,235.00 M360.00,360.00 L360.00,357.00 M40.00,40.00 L42.50,40.00 M360.00,40.00 L357.50,40.00 M40.00,46.40 L42.50,46.40 M360.00,46.40 L357.50,46.40 M40.00,52.80 L43.00,52.80 M360.00,52.80 L357.00,52.80 M40.00,59.20 L42.50,59.20 M360.00,59.20 L357.50,59.20 M40.00,65.60 L42.50,65.60 M360.00,65.60 L357.50,65.60 M40.00,72.00 L42.50,72.00 M360.00,72.00 L357.50,72.00 M40.00,78.40 L43.00,78.40 M360.00,78.40 L357.00,78.40 M40.00,84.80 L42.50,84.80 M360.00,84.80 L357.50,84.80 M40.00,91.20 L42.50,91.20 M360.00,91.20 L357.50,91.20 M40.00,97.60 L42.50,97.60 M360.00,97.60 L357.50,97.60 M40.00,104.00 L43.00,104.00 M360.00,104.00 L357.00,104.00 M40.00,110.40 L42.50,110.40 M360.00,110.40 L357.50,110.40 M40.00,116.80 L42.50,116.80 M360.00,116.80 L357.50,116.80 M40.00,123.20 L42.50,123.20 M360.00,123.20 L357.50,123.20 M40.00,129.60 L43.00,129.60 M360.00,129.60 L357.00,129.60 M40.00,136.00 L42.50,136.00 M360.00,136.00 L357.50,136.00 M40.00,142.40 L42.50,142.40 M360.00,142.40 L357.50,142.40 M40.00,148.80 L42.50,148.80 M360.00,148.80 L357.50,148.80 M40.00,155.20 L43.00,155.20 M360.00,155.20 L357.00,155.20 M40.00,161.60 L42.50,161.60 M360.00,161.60 L357.50,161.60 M40.00,168.00 L42.50,168.00 M360.00,168.00 L357.50,168.00 M40.00,174.40 L42.50,174.40 M360.00,174.40 L357.50,174.40 M40.00,180.80 L43.00,180.80 M360.00,180.80 L357.00,180.80 M40.00,187.20 L42.50,187.20 M360.00,187.20 L357.50,187.20 M40.00,193.60 L42.50,193.60 M360.00,193.60 L357.50,193.60 M40.00,200.00 L42.50,200.00 M360.00,200.00 L357.50,200.00 M40.00,206.40 L43.00,206.40 M360.00,206.40 L357.00,206.40 M40.00,212.80 L42.50,212.80 M360.00,212.80 L357.50,212.80 M40.00,219.20 L42.50,219.20 M360.00,219.20 L357.50,219.20 M40.00,225.60 L42.50,225.60 M360.00,225.60 L357.50,225.60 M40.00,232.00 L43.00,232.00 M360.00,232.00 L357.00,232.00 M40.00,350.46 L41.35,350.46 M360.00,350.46 L358.65,350.46 M40.00,340.16 L43.00,340.16 M360.00,340.16 L357.00,340.16 M40.00,329.87 L41.35,329.87 M360.00,329.87 L358.65,329.87 M40.00,319.57 L43.00,319.57 M360.00,319.57 L357.00,319.57 M40.00,309.27 L41.35,309.27 M360.00,309.27 L358.65,309.27 M40.00,298.97 L43.00,298.97 M360.00,298.97 L357.00,298.97 M40.00,288.67 L41.35,288.67 M360.00,288.67 L358.65,288.67 M40.00,278.38 L43.00,278.38 M360.00,278.38 L357.00,278.38 M40.00,268.08 L41.35,268.08 M360.00,268.08 L358.65,268.08 M40.00,257.78 L43.00,257.78 M360.00,257.78 L357.00,257.78 M40.00,247.48 L41.35,247.48 M360.00,247.48 L358.65,247.48 M40.00,237.18 L43.00,237.18 M360.00,237.18 L357.00,237.18" stroke-width="1" stroke="#2a2a2a"/>
</g>
<!-- legends top -->
<g fill="none" stroke-width="1.2">
<path d="M56.1,68.5 H72" stroke="#00b000"/>
<path d="M56.1,78.5 H72" stroke="#0000ff"/>
<path d="M56.1,88.05 H72" stroke="#000" stroke-width="1.4" stroke-dasharray="1.7,1.6"/>
<path d="M56.1,97.5 H72" stroke="#b21e1e" stroke-width="1.15"/>
</g>
<text class="lg cg" x="80.5" y="71.7">MB analytic</text>
<text class="lg cb" x="80.5" y="81.5">MB corrected</text>
<text class="lg" x="80.5" y="91.3">MB numerical</text>
<text class="lg cr" x="80.5" y="101.1">FD numerical</text>
<!-- legends bottom -->
<g fill="none" stroke-width="1.2">
<path d="M56,308.6 H72" stroke="#b21e1e" stroke-width="1.2"/>
<path d="M56,321.45 H72" stroke="#00b000" stroke-width="1.3"/>
<path d="M56,334.35 H72" stroke="#0000ff" stroke-width="1.3"/>
<path d="M56,347.1 H72" stroke="#000" stroke-width="1.4" stroke-dasharray="1.7,1.6"/>
</g>
<text class="lg cr" x="80.2" y="311.2" style="font-size:10.68px">MB numerical/MB analytic</text>
<text class="lg cg" x="80.2" y="324.1" style="font-size:10.68px">FD numerical/MB analytic</text>
<text class="lg cb" x="80.2" y="337.1" style="font-size:10.68px">FD numerical/MB corrected</text>
<text class="lg" x="80.2" y="350" style="font-size:10.68px">FD numerical/MB numerical</text>
<text class="tl" text-anchor="end" transform="translate(38.5,58.0) scale(0.95,1.09)">10<tspan class="sup" dy="-4.4">0</tspan></text>
<text class="tl" text-anchor="end" transform="translate(38.5,83.6) scale(0.95,1.09)">10<tspan class="sup" dy="-4.4">−4</tspan></text>
<text class="tl" text-anchor="end" transform="translate(38.5,109.2) scale(0.95,1.09)">10<tspan class="sup" dy="-4.4">−8</tspan></text>
<text class="tl" text-anchor="end" transform="translate(38.5,134.8) scale(0.95,1.09)">10<tspan class="sup" dy="-4.4">−12</tspan></text>
<text class="tl" text-anchor="end" transform="translate(38.5,160.4) scale(0.95,1.09)">10<tspan class="sup" dy="-4.4">−16</tspan></text>
<text class="tl" text-anchor="end" transform="translate(38.5,186.0) scale(0.95,1.09)">10<tspan class="sup" dy="-4.4">−20</tspan></text>
<text class="tl" text-anchor="end" transform="translate(38.5,211.6) scale(0.95,1.09)">10<tspan class="sup" dy="-4.4">−24</tspan></text>
<text class="tl" style="font-size:11.5px" text-anchor="end" x="38.8" y="344.3">0.2</text>
<text class="tl" style="font-size:11.5px" text-anchor="end" x="38.8" y="323.7">0.4</text>
<text class="tl" style="font-size:11.5px" text-anchor="end" x="38.8" y="303.1">0.6</text>
<text class="tl" style="font-size:11.5px" text-anchor="end" x="38.8" y="282.5">0.8</text>
<text class="tl" style="font-size:11.5px" text-anchor="end" x="38.8" y="261.9">1.0</text>
<text class="tl" style="font-size:11.5px" text-anchor="end" x="38.8" y="241.3">1.2</text>
<text class="tl" text-anchor="middle" transform="translate(40.4,371.0) scale(0.95,1.09)"><tspan>10</tspan><tspan class="sup" dy="-3.6">0</tspan></text>
<text class="tl" text-anchor="middle" transform="translate(76.0,371.0) scale(0.95,1.09)"><tspan>10</tspan><tspan class="sup" dy="-3.6">1</tspan></text>
<text class="tl" text-anchor="middle" transform="translate(111.5,371.0) scale(0.95,1.09)"><tspan>10</tspan><tspan class="sup" dy="-3.6">2</tspan></text>
<text class="tl" text-anchor="middle" transform="translate(147.1,371.0) scale(0.95,1.09)"><tspan>10</tspan><tspan class="sup" dy="-3.6">3</tspan></text>
<text class="tl" text-anchor="middle" transform="translate(182.6,371.0) scale(0.95,1.09)"><tspan>10</tspan><tspan class="sup" dy="-3.6">4</tspan></text>
<text class="tl" text-anchor="middle" transform="translate(218.2,371.0) scale(0.95,1.09)"><tspan>10</tspan><tspan class="sup" dy="-3.6">5</tspan></text>
<text class="tl" text-anchor="middle" transform="translate(253.7,371.0) scale(0.95,1.09)"><tspan>10</tspan><tspan class="sup" dy="-3.6">6</tspan></text>
<text class="tl" text-anchor="middle" transform="translate(289.3,371.0) scale(0.95,1.09)"><tspan>10</tspan><tspan class="sup" dy="-3.6">7</tspan></text>
<text class="tl" text-anchor="middle" transform="translate(324.8,371.0) scale(0.95,1.09)"><tspan>10</tspan><tspan class="sup" dy="-3.6">8</tspan></text>
<text class="tl" text-anchor="middle" transform="translate(360.4,371.0) scale(0.95,1.09)"><tspan>10</tspan><tspan class="sup" dy="-3.6">9</tspan></text>
<text x="199.8" y="383.7" text-anchor="middle" style="font-size:13.1px"><tspan font-style="italic">T</tspan> (GeV)</text>
<text transform="translate(13.9,136.0) rotate(-90)" text-anchor="middle" style="font-size:14.3px"><tspan font-style="italic">Γ</tspan><tspan style="font-size:8.4px" font-style="italic" dy="-6.3" dx="0.3">E</tspan><tspan dy="6.3" style="font-size:13.3px"> (GeV)</tspan></text>
<text transform="translate(20.8,296.2) rotate(-90)" text-anchor="middle" style="font-size:13.8px">Ratio</text>
</svg>
</body></html>
